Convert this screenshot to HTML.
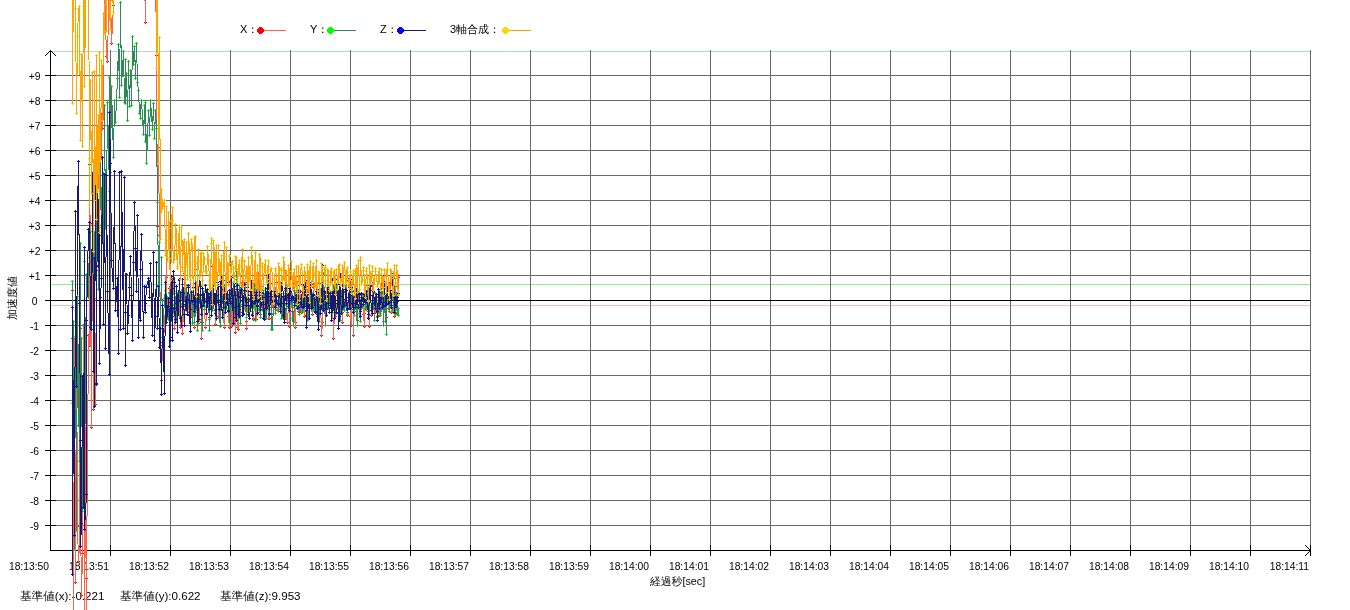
<!DOCTYPE html><html><head><meta charset="utf-8"><style>html,body{margin:0;padding:0;background:#fff;width:1350px;height:610px;overflow:hidden}svg{display:block}</style></head><body><svg width="1350" height="610" viewBox="0 0 1350 610" font-family="Liberation Sans, WenQuanYi Zen Hei, sans-serif"><g shape-rendering="crispEdges" stroke-width="1" fill="none"><path d="M50 51.5H1310" stroke="#add8e6"/><path d="M50 284.5H1310" stroke="#90ee90"/><path d="M50 305.5H1310" stroke="#ffb6c1"/><path d="M56 75.5H1310M56 100.5H1310M56 125.5H1310M56 150.5H1310M56 175.5H1310M56 200.5H1310M56 225.5H1310M56 250.5H1310M56 275.5H1310M56 325.5H1310M56 350.5H1310M56 375.5H1310M56 400.5H1310M56 425.5H1310M56 450.5H1310M56 475.5H1310M56 500.5H1310M56 525.5H1310M110.5 50V545M170.5 50V545M230.5 50V545M290.5 50V545M350.5 50V545M410.5 50V545M470.5 50V545M530.5 50V545M590.5 50V545M650.5 50V545M710.5 50V545M770.5 50V545M830.5 50V545M890.5 50V545M950.5 50V545M1010.5 50V545M1070.5 50V545M1130.5 50V545M1190.5 50V545M1250.5 50V545M1310.5 50V545" stroke="#696969"/><path d="M50.5 50V550M50 550.5H1310M45 300.5H1310M45 75.5H56M45 100.5H56M45 125.5H56M45 150.5H56M45 175.5H56M45 200.5H56M45 225.5H56M45 250.5H56M45 275.5H56M45 300.5H56M45 325.5H56M45 350.5H56M45 375.5H56M45 400.5H56M45 425.5H56M45 450.5H56M45 475.5H56M45 500.5H56M45 525.5H56M110.5 545V556M170.5 545V556M230.5 545V556M290.5 545V556M350.5 545V556M410.5 545V556M470.5 545V556M530.5 545V556M590.5 545V556M650.5 545V556M710.5 545V556M770.5 545V556M830.5 545V556M890.5 545V556M950.5 545V556M1010.5 545V556M1070.5 545V556M1130.5 545V556M1190.5 545V556M1250.5 545V556M1310.5 545V556" stroke="#000"/></g><path d="M44.5 56.5L50.5 50.5L56.5 56.5M1305 545L1310.5 550.5L1305 556" stroke="#000" fill="none" shape-rendering="crispEdges"/><g font-size="10.3"><text x="34.5" y="80.0" text-anchor="middle">+9</text><text x="34.5" y="105.0" text-anchor="middle">+8</text><text x="34.5" y="130.0" text-anchor="middle">+7</text><text x="34.5" y="155.0" text-anchor="middle">+6</text><text x="34.5" y="180.0" text-anchor="middle">+5</text><text x="34.5" y="205.0" text-anchor="middle">+4</text><text x="34.5" y="230.0" text-anchor="middle">+3</text><text x="34.5" y="255.0" text-anchor="middle">+2</text><text x="34.5" y="280.0" text-anchor="middle">+1</text><text x="34.5" y="305.0" text-anchor="middle">0</text><text x="34.5" y="330.0" text-anchor="middle">-1</text><text x="34.5" y="355.0" text-anchor="middle">-2</text><text x="34.5" y="380.0" text-anchor="middle">-3</text><text x="34.5" y="405.0" text-anchor="middle">-4</text><text x="34.5" y="430.0" text-anchor="middle">-5</text><text x="34.5" y="455.0" text-anchor="middle">-6</text><text x="34.5" y="480.0" text-anchor="middle">-7</text><text x="34.5" y="505.0" text-anchor="middle">-8</text><text x="34.5" y="530.0" text-anchor="middle">-9</text></g><g font-size="10.3"><text x="49" y="570" text-anchor="end">18:13:50</text><text x="109" y="570" text-anchor="end">18:13:51</text><text x="169" y="570" text-anchor="end">18:13:52</text><text x="229" y="570" text-anchor="end">18:13:53</text><text x="289" y="570" text-anchor="end">18:13:54</text><text x="349" y="570" text-anchor="end">18:13:55</text><text x="409" y="570" text-anchor="end">18:13:56</text><text x="469" y="570" text-anchor="end">18:13:57</text><text x="529" y="570" text-anchor="end">18:13:58</text><text x="589" y="570" text-anchor="end">18:13:59</text><text x="649" y="570" text-anchor="end">18:14:00</text><text x="709" y="570" text-anchor="end">18:14:01</text><text x="769" y="570" text-anchor="end">18:14:02</text><text x="829" y="570" text-anchor="end">18:14:03</text><text x="889" y="570" text-anchor="end">18:14:04</text><text x="949" y="570" text-anchor="end">18:14:05</text><text x="1009" y="570" text-anchor="end">18:14:06</text><text x="1069" y="570" text-anchor="end">18:14:07</text><text x="1129" y="570" text-anchor="end">18:14:08</text><text x="1189" y="570" text-anchor="end">18:14:09</text><text x="1249" y="570" text-anchor="end">18:14:10</text><text x="1309" y="570" text-anchor="end">18:14:11</text></g><text x="650" y="585" font-size="10.8">経過秒[sec]</text><text transform="translate(16 320) rotate(-90)" font-size="11">加速度値</text><g font-size="11.6"><text x="20" y="600">基準値(x):-0.221</text><text x="120" y="600">基準値(y):0.622</text><text x="220" y="600">基準値(z):9.953</text></g><text x="240" y="33" font-size="11" font-family="Liberation Sans, WenQuanYi Zen Hei, sans-serif">X：</text><path d="M260 30.5H286" stroke="#ff6347" shape-rendering="crispEdges"/><path d="M259 27h3v1h1v1h1v3h-1v1h-1v1h-3v-1h-1v-1h-1v-3h1v-1h1z" fill="#ff0000" shape-rendering="crispEdges"/><text x="310" y="33" font-size="11" font-family="Liberation Sans, WenQuanYi Zen Hei, sans-serif">Y：</text><path d="M330 30.5H356" stroke="#2e8b57" shape-rendering="crispEdges"/><path d="M329 27h3v1h1v1h1v3h-1v1h-1v1h-3v-1h-1v-1h-1v-3h1v-1h1z" fill="#00ff00" shape-rendering="crispEdges"/><text x="380" y="33" font-size="11" font-family="Liberation Sans, WenQuanYi Zen Hei, sans-serif">Z：</text><path d="M400 30.5H426" stroke="#191970" shape-rendering="crispEdges"/><path d="M399 27h3v1h1v1h1v3h-1v1h-1v1h-3v-1h-1v-1h-1v-3h1v-1h1z" fill="#0000ff" shape-rendering="crispEdges"/><text x="450" y="33" font-size="11" font-family="Liberation Sans, WenQuanYi Zen Hei, sans-serif">3軸合成：</text><path d="M505 30.5H531" stroke="#ffa500" shape-rendering="crispEdges"/><path d="M504 27h3v1h1v1h1v3h-1v1h-1v1h-3v-1h-1v-1h-1v-3h1v-1h1z" fill="#ffd700" shape-rendering="crispEdges"/><path d="M71 290.5h3M72.5 289v3M71 338.5h3M72.5 337v3M73 339.5h3M74.5 338v3M74 582.5h3M75.5 581v3M75 332.5h3M76.5 331v3M76 526.5h3M77.5 525v3M77 561.5h3M78.5 560v3M78 545.5h3M79.5 544v3M79 328.5h3M80.5 327v3M79 514.5h3M80.5 513v3M80 595.5h3M81.5 594v3M81 553.5h3M82.5 552v3M82 325.5h3M83.5 324v3M83 359.5h3M84.5 358v3M85 578.5h3M86.5 577v3M87 335.5h3M88.5 334v3M88 345.5h3M89.5 344v3M88 164.5h3M89.5 163v3M89 263.5h3M90.5 262v3M90 427.5h3M91.5 426v3M91 223.5h3M92.5 222v3M92 409.5h3M93.5 408v3M93 300.5h3M94.5 299v3M93 265.5h3M94.5 264v3M94 404.5h3M95.5 403v3M95 265.5h3M96.5 264v3M95 270.5h3M96.5 269v3M96 209.5h3M97.5 208v3M97 139.5h3M98.5 138v3M98 235.5h3M99.5 234v3M98 136.5h3M99.5 135v3M99 208.5h3M100.5 207v3M100 114.5h3M101.5 113v3M101 128.5h3M102.5 127v3M102 111.5h3M103.5 110v3M104 22.5h3M105.5 21v3M105 56.5h3M106.5 55v3M106 61.5h3M107.5 60v3M108 16.5h3M109.5 15v3M110 43.5h3M111.5 42v3M112 5.5h3M113.5 4v3M144 22.5h3M145.5 21v3M155 55.5h3M156.5 54v3M156 226.5h3M157.5 225v3M157 147.5h3M158.5 146v3M158 235.5h3M159.5 234v3M159 345.5h3M160.5 344v3M160 380.5h3M161.5 379v3M161 342.5h3M162.5 341v3M163 330.5h3M164.5 329v3M164 300.5h3M165.5 299v3M165 252.5h3M166.5 251v3M165 277.5h3M166.5 276v3M166 312.5h3M167.5 311v3M167 315.5h3M168.5 314v3M167 308.5h3M168.5 307v3M168 313.5h3M169.5 312v3M168 288.5h3M169.5 287v3M169 286.5h3M170.5 285v3M169 301.5h3M170.5 300v3M170 304.5h3M171.5 303v3M170 317.5h3M171.5 316v3M171 307.5h3M172.5 306v3M171 294.5h3M172.5 293v3M171 279.5h3M172.5 278v3M172 281.5h3M173.5 280v3M173 307.5h3M174.5 306v3M173 328.5h3M174.5 327v3M174 313.5h3M175.5 312v3M174 300.5h3M175.5 299v3M175 293.5h3M176.5 292v3M175 303.5h3M176.5 302v3M176 314.5h3M177.5 313v3M176 302.5h3M177.5 301v3M177 295.5h3M178.5 294v3M178 296.5h3M179.5 295v3M178 307.5h3M179.5 306v3M179 327.5h3M180.5 326v3M179 307.5h3M180.5 306v3M180 294.5h3M181.5 293v3M181 284.5h3M182.5 283v3M181 306.5h3M182.5 305v3M181 333.5h3M182.5 332v3M182 310.5h3M183.5 309v3M183 277.5h3M184.5 276v3M183 273.5h3M184.5 272v3M184 298.5h3M185.5 297v3M184 306.5h3M185.5 305v3M185 310.5h3M186.5 309v3M185 309.5h3M186.5 308v3M186 297.5h3M187.5 296v3M186 298.5h3M187.5 297v3M187 301.5h3M188.5 300v3M187 306.5h3M188.5 305v3M188 312.5h3M189.5 311v3M188 309.5h3M189.5 308v3M189 296.5h3M190.5 295v3M189 270.5h3M190.5 269v3M190 310.5h3M191.5 309v3M190 316.5h3M191.5 315v3M191 301.5h3M192.5 300v3M191 295.5h3M192.5 294v3M192 302.5h3M193.5 301v3M192 306.5h3M193.5 305v3M193 327.5h3M194.5 326v3M193 313.5h3M194.5 312v3M194 295.5h3M195.5 294v3M194 269.5h3M195.5 268v3M195 306.5h3M196.5 305v3M196 302.5h3M197.5 301v3M196 299.5h3M197.5 298v3M197 294.5h3M198.5 293v3M197 323.5h3M198.5 322v3M198 319.5h3M199.5 318v3M199 295.5h3M200.5 294v3M199 294.5h3M200.5 293v3M200 322.5h3M201.5 321v3M200 338.5h3M201.5 337v3M201 322.5h3M202.5 321v3M201 299.5h3M202.5 298v3M202 297.5h3M203.5 296v3M202 296.5h3M203.5 295v3M203 309.5h3M204.5 308v3M204 327.5h3M205.5 326v3M205 314.5h3M206.5 313v3M205 298.5h3M206.5 297v3M206 289.5h3M207.5 288v3M206 299.5h3M207.5 298v3M207 304.5h3M208.5 303v3M208 317.5h3M209.5 316v3M208 307.5h3M209.5 306v3M209 299.5h3M210.5 298v3M209 291.5h3M210.5 290v3M210 293.5h3M211.5 292v3M210 302.5h3M211.5 301v3M211 308.5h3M212.5 307v3M211 307.5h3M212.5 306v3M212 302.5h3M213.5 301v3M212 295.5h3M213.5 294v3M213 294.5h3M214.5 293v3M213 298.5h3M214.5 297v3M214 310.5h3M215.5 309v3M214 324.5h3M215.5 323v3M215 318.5h3M216.5 317v3M215 301.5h3M216.5 300v3M216 290.5h3M217.5 289v3M217 301.5h3M218.5 300v3M217 316.5h3M218.5 315v3M218 315.5h3M219.5 314v3M219 294.5h3M220.5 293v3M219 301.5h3M220.5 300v3M220 309.5h3M221.5 308v3M220 307.5h3M221.5 306v3M221 285.5h3M222.5 284v3M222 295.5h3M223.5 294v3M222 317.5h3M223.5 316v3M223 327.5h3M224.5 326v3M223 310.5h3M224.5 309v3M224 280.5h3M225.5 279v3M224 302.5h3M225.5 301v3M225 305.5h3M226.5 304v3M225 300.5h3M226.5 299v3M226 295.5h3M227.5 294v3M227 295.5h3M228.5 294v3M227 316.5h3M228.5 315v3M228 327.5h3M229.5 326v3M228 315.5h3M229.5 314v3M229 282.5h3M230.5 281v3M229 281.5h3M230.5 280v3M230 311.5h3M231.5 310v3M230 326.5h3M231.5 325v3M231 322.5h3M232.5 321v3M232 295.5h3M233.5 294v3M232 291.5h3M233.5 290v3M233 298.5h3M234.5 297v3M233 319.5h3M234.5 318v3M234 332.5h3M235.5 331v3M234 305.5h3M235.5 304v3M235 293.5h3M236.5 292v3M235 289.5h3M236.5 288v3M236 299.5h3M237.5 298v3M236 327.5h3M237.5 326v3M237 329.5h3M238.5 328v3M237 303.5h3M238.5 302v3M238 295.5h3M239.5 294v3M238 304.5h3M239.5 303v3M239 312.5h3M240.5 311v3M239 306.5h3M240.5 305v3M240 287.5h3M241.5 286v3M241 276.5h3M242.5 275v3M241 291.5h3M242.5 290v3M242 309.5h3M243.5 308v3M242 313.5h3M243.5 312v3M243 307.5h3M244.5 306v3M243 293.5h3M244.5 292v3M244 282.5h3M245.5 281v3M245 321.5h3M246.5 320v3M245 328.5h3M246.5 327v3M246 299.5h3M247.5 298v3M246 290.5h3M247.5 289v3M247 295.5h3M248.5 294v3M247 307.5h3M248.5 306v3M248 307.5h3M249.5 306v3M249 308.5h3M250.5 307v3M249 301.5h3M250.5 300v3M250 290.5h3M251.5 289v3M250 286.5h3M251.5 285v3M251 291.5h3M252.5 290v3M251 314.5h3M252.5 313v3M252 318.5h3M253.5 317v3M252 319.5h3M253.5 318v3M253 303.5h3M254.5 302v3M254 280.5h3M255.5 279v3M254 288.5h3M255.5 287v3M255 315.5h3M256.5 314v3M255 319.5h3M256.5 318v3M256 312.5h3M257.5 311v3M256 292.5h3M257.5 291v3M256 275.5h3M257.5 274v3M257 272.5h3M258.5 271v3M258 295.5h3M259.5 294v3M258 308.5h3M259.5 307v3M259 314.5h3M260.5 313v3M259 306.5h3M260.5 305v3M260 303.5h3M261.5 302v3M260 286.5h3M261.5 285v3M261 302.5h3M262.5 301v3M261 307.5h3M262.5 306v3M262 298.5h3M263.5 297v3M262 295.5h3M263.5 294v3M263 298.5h3M264.5 297v3M264 318.5h3M265.5 317v3M264 317.5h3M265.5 316v3M265 306.5h3M266.5 305v3M265 293.5h3M266.5 292v3M266 294.5h3M267.5 293v3M266 294.5h3M267.5 293v3M267 307.5h3M268.5 306v3M267 318.5h3M268.5 317v3M268 318.5h3M269.5 317v3M268 299.5h3M269.5 298v3M269 283.5h3M270.5 282v3M269 292.5h3M270.5 291v3M270 307.5h3M271.5 306v3M270 314.5h3M271.5 313v3M271 300.5h3M272.5 299v3M272 291.5h3M273.5 290v3M272 294.5h3M273.5 293v3M273 305.5h3M274.5 304v3M274 304.5h3M275.5 303v3M274 299.5h3M275.5 298v3M274 291.5h3M275.5 290v3M275 282.5h3M276.5 281v3M275 303.5h3M276.5 302v3M276 310.5h3M277.5 309v3M277 309.5h3M278.5 308v3M277 305.5h3M278.5 304v3M278 293.5h3M279.5 292v3M278 290.5h3M279.5 289v3M279 301.5h3M280.5 300v3M280 313.5h3M281.5 312v3M280 309.5h3M281.5 308v3M281 305.5h3M282.5 304v3M281 298.5h3M282.5 297v3M282 297.5h3M283.5 296v3M282 310.5h3M283.5 309v3M283 319.5h3M284.5 318v3M283 309.5h3M284.5 308v3M284 290.5h3M285.5 289v3M284 271.5h3M285.5 270v3M285 296.5h3M286.5 295v3M285 317.5h3M286.5 316v3M286 322.5h3M287.5 321v3M287 303.5h3M288.5 302v3M287 296.5h3M288.5 295v3M288 303.5h3M289.5 302v3M288 326.5h3M289.5 325v3M289 301.5h3M290.5 300v3M290 293.5h3M291.5 292v3M290 303.5h3M291.5 302v3M291 311.5h3M292.5 310v3M291 307.5h3M292.5 306v3M292 278.5h3M293.5 277v3M293 280.5h3M294.5 279v3M293 317.5h3M294.5 316v3M294 327.5h3M295.5 326v3M294 322.5h3M295.5 321v3M295 293.5h3M296.5 292v3M295 276.5h3M296.5 275v3M296 285.5h3M297.5 284v3M296 305.5h3M297.5 304v3M297 305.5h3M298.5 304v3M297 311.5h3M298.5 310v3M298 302.5h3M299.5 301v3M298 291.5h3M299.5 290v3M299 296.5h3M300.5 295v3M300 312.5h3M301.5 311v3M300 307.5h3M301.5 306v3M301 297.5h3M302.5 296v3M301 291.5h3M302.5 290v3M302 294.5h3M303.5 293v3M302 309.5h3M303.5 308v3M303 316.5h3M304.5 315v3M303 311.5h3M304.5 310v3M304 296.5h3M305.5 295v3M305 291.5h3M306.5 290v3M305 315.5h3M306.5 314v3M306 314.5h3M307.5 313v3M306 292.5h3M307.5 291v3M307 286.5h3M308.5 285v3M308 297.5h3M309.5 296v3M308 306.5h3M309.5 305v3M309 305.5h3M310.5 304v3M309 301.5h3M310.5 300v3M310 293.5h3M311.5 292v3M310 308.5h3M311.5 307v3M311 314.5h3M312.5 313v3M311 299.5h3M312.5 298v3M312 284.5h3M313.5 283v3M312 287.5h3M313.5 286v3M313 307.5h3M314.5 306v3M314 306.5h3M315.5 305v3M314 301.5h3M315.5 300v3M315 289.5h3M316.5 288v3M315 298.5h3M316.5 297v3M316 302.5h3M317.5 301v3M316 316.5h3M317.5 315v3M317 315.5h3M318.5 314v3M317 308.5h3M318.5 307v3M318 295.5h3M319.5 294v3M318 283.5h3M319.5 282v3M319 291.5h3M320.5 290v3M319 309.5h3M320.5 308v3M320 326.5h3M321.5 325v3M320 335.5h3M321.5 334v3M321 322.5h3M322.5 321v3M321 298.5h3M322.5 297v3M322 292.5h3M323.5 291v3M322 295.5h3M323.5 294v3M323 309.5h3M324.5 308v3M324 313.5h3M325.5 312v3M324 310.5h3M325.5 309v3M325 296.5h3M326.5 295v3M325 292.5h3M326.5 291v3M326 307.5h3M327.5 306v3M326 307.5h3M327.5 306v3M327 294.5h3M328.5 293v3M327 286.5h3M328.5 285v3M328 293.5h3M329.5 292v3M329 307.5h3M330.5 306v3M329 307.5h3M330.5 306v3M330 308.5h3M331.5 307v3M330 302.5h3M331.5 301v3M331 298.5h3M332.5 297v3M331 298.5h3M332.5 297v3M332 338.5h3M333.5 337v3M333 310.5h3M334.5 309v3M333 275.5h3M334.5 274v3M334 295.5h3M335.5 294v3M334 316.5h3M335.5 315v3M335 313.5h3M336.5 312v3M336 295.5h3M337.5 294v3M336 290.5h3M337.5 289v3M337 298.5h3M338.5 297v3M337 309.5h3M338.5 308v3M338 311.5h3M339.5 310v3M338 311.5h3M339.5 310v3M339 297.5h3M340.5 296v3M339 294.5h3M340.5 293v3M340 305.5h3M341.5 304v3M341 322.5h3M342.5 321v3M341 312.5h3M342.5 311v3M342 292.5h3M343.5 291v3M342 291.5h3M343.5 290v3M343 305.5h3M344.5 304v3M344 305.5h3M345.5 304v3M344 287.5h3M345.5 286v3M345 280.5h3M346.5 279v3M345 300.5h3M346.5 299v3M346 312.5h3M347.5 311v3M346 315.5h3M347.5 314v3M347 305.5h3M348.5 304v3M348 287.5h3M349.5 286v3M348 280.5h3M349.5 279v3M348 278.5h3M349.5 277v3M349 304.5h3M350.5 303v3M349 316.5h3M350.5 315v3M350 325.5h3M351.5 324v3M350 309.5h3M351.5 308v3M351 284.5h3M352.5 283v3M352 305.5h3M353.5 304v3M352 335.5h3M353.5 334v3M353 299.5h3M354.5 298v3M354 297.5h3M355.5 296v3M354 297.5h3M355.5 296v3M355 301.5h3M356.5 300v3M355 311.5h3M356.5 310v3M356 320.5h3M357.5 319v3M356 304.5h3M357.5 303v3M357 293.5h3M358.5 292v3M358 290.5h3M359.5 289v3M358 297.5h3M359.5 296v3M359 307.5h3M360.5 306v3M359 307.5h3M360.5 306v3M360 308.5h3M361.5 307v3M360 299.5h3M361.5 298v3M361 295.5h3M362.5 294v3M362 304.5h3M363.5 303v3M362 314.5h3M363.5 313v3M363 326.5h3M364.5 325v3M363 313.5h3M364.5 312v3M364 298.5h3M365.5 297v3M364 297.5h3M365.5 296v3M365 309.5h3M366.5 308v3M365 305.5h3M366.5 304v3M366 285.5h3M367.5 284v3M367 288.5h3M368.5 287v3M367 311.5h3M368.5 310v3M368 326.5h3M369.5 325v3M368 305.5h3M369.5 304v3M369 277.5h3M370.5 276v3M369 290.5h3M370.5 289v3M370 315.5h3M371.5 314v3M371 309.5h3M372.5 308v3M371 286.5h3M372.5 285v3M372 282.5h3M373.5 281v3M372 292.5h3M373.5 291v3M373 308.5h3M374.5 307v3M374 312.5h3M375.5 311v3M374 304.5h3M375.5 303v3M375 296.5h3M376.5 295v3M376 310.5h3M377.5 309v3M376 316.5h3M377.5 315v3M377 300.5h3M378.5 299v3M377 297.5h3M378.5 296v3M378 301.5h3M379.5 300v3M378 315.5h3M379.5 314v3M379 309.5h3M380.5 308v3M379 298.5h3M380.5 297v3M380 284.5h3M381.5 283v3M380 291.5h3M381.5 290v3M381 308.5h3M382.5 307v3M382 308.5h3M383.5 307v3M382 302.5h3M383.5 301v3M383 300.5h3M384.5 299v3M383 301.5h3M384.5 300v3M383 300.5h3M384.5 299v3M384 310.5h3M385.5 309v3M385 317.5h3M386.5 316v3M385 304.5h3M386.5 303v3M386 291.5h3M387.5 290v3M386 303.5h3M387.5 302v3M387 308.5h3M388.5 307v3M388 302.5h3M389.5 301v3M388 283.5h3M389.5 282v3M389 285.5h3M390.5 284v3M389 304.5h3M390.5 303v3M390 312.5h3M391.5 311v3M390 307.5h3M391.5 306v3M391 290.5h3M392.5 289v3M392 278.5h3M393.5 277v3M392 311.5h3M393.5 310v3M393 316.5h3M394.5 315v3M393 303.5h3M394.5 302v3M394 292.5h3M395.5 291v3M394 286.5h3M395.5 285v3M395 298.5h3M396.5 297v3M395 308.5h3M396.5 307v3M396 313.5h3M397.5 312v3M396 307.5h3M397.5 306v3M397 277.5h3M398.5 276v3M397 275.5h3M398.5 274v3" stroke="#ff0000" fill="none" shape-rendering="crispEdges"/>
<polyline points="72.5,290.5 72.5,338.5 73.5,640.5 74.5,339.5 75.5,582.5 76.5,332.5 77.5,526.5 78.5,561.5 79.5,545.5 80.5,328.5 80.5,514.5 81.5,595.5 82.5,553.5 83.5,325.5 84.5,640.5 84.5,359.5 86.5,620.5 86.5,578.5 88.5,335.5 89.5,345.5 89.5,164.5 90.5,263.5 91.5,427.5 92.5,223.5 93.5,409.5 94.5,300.5 94.5,265.5 95.5,404.5 96.5,265.5 96.5,270.5 97.5,209.5 98.5,139.5 99.5,235.5 99.5,136.5 100.5,208.5 101.5,114.5 102.5,128.5 103.5,111.5 104.5,-35.5 105.5,22.5 106.5,56.5 107.5,61.5 109.5,-39.5 109.5,16.5 110.5,-10.5 111.5,43.5 113.5,5.5 114.5,-148.5 115.5,-22.5 117.5,-71.5 118.5,-134.5 119.5,-28.5 120.5,-141.5 121.5,-31.5 123.5,-97.5 124.5,-60.5 125.5,-148.5 125.5,-131.5 126.5,-25.5 127.5,-105.5 128.5,-83.5 129.5,-82.5 130.5,-23.5 131.5,-150.5 132.5,-90.5 133.5,-149.5 134.5,-82.5 135.5,-148.5 136.5,-61.5 137.5,-141.5 138.5,-31.5 139.5,-42.5 140.5,-114.5 140.5,-133.5 141.5,-81.5 143.5,-137.5 144.5,-21.5 145.5,22.5 145.5,-22.5 146.5,-126.5 148.5,-146.5 149.5,-145.5 150.5,-90.5 152.5,-87.5 153.5,-81.5 154.5,-88.5 155.5,-33.5 156.5,55.5 157.5,226.5 158.5,147.5 159.5,235.5 160.5,345.5 161.5,380.5 162.5,342.5 164.5,330.5 165.5,300.5 166.5,252.5 166.5,277.5 167.5,312.5 168.5,315.5 168.5,308.5 169.5,313.5 169.5,288.5 170.5,286.5 170.5,301.5 171.5,304.5 171.5,317.5 172.5,307.5 172.5,294.5 172.5,279.5 173.5,281.5 174.5,307.5 174.5,328.5 175.5,313.5 175.5,300.5 176.5,293.5 176.5,303.5 177.5,314.5 177.5,302.5 178.5,295.5 179.5,296.5 179.5,307.5 180.5,327.5 180.5,307.5 181.5,294.5 182.5,284.5 182.5,306.5 182.5,333.5 183.5,310.5 184.5,277.5 184.5,273.5 185.5,298.5 185.5,306.5 186.5,310.5 186.5,309.5 187.5,297.5 187.5,298.5 188.5,301.5 188.5,306.5 189.5,312.5 189.5,309.5 190.5,296.5 190.5,270.5 191.5,310.5 191.5,316.5 192.5,301.5 192.5,295.5 193.5,302.5 193.5,306.5 194.5,327.5 194.5,313.5 195.5,295.5 195.5,269.5 196.5,306.5 197.5,302.5 197.5,299.5 198.5,294.5 198.5,323.5 199.5,319.5 200.5,295.5 200.5,294.5 201.5,322.5 201.5,338.5 202.5,322.5 202.5,299.5 203.5,297.5 203.5,296.5 204.5,309.5 205.5,327.5 206.5,314.5 206.5,298.5 207.5,289.5 207.5,299.5 208.5,304.5 209.5,317.5 209.5,307.5 210.5,299.5 210.5,291.5 211.5,293.5 211.5,302.5 212.5,308.5 212.5,307.5 213.5,302.5 213.5,295.5 214.5,294.5 214.5,298.5 215.5,310.5 215.5,324.5 216.5,318.5 216.5,301.5 217.5,290.5 218.5,301.5 218.5,316.5 219.5,315.5 220.5,294.5 220.5,301.5 221.5,309.5 221.5,307.5 222.5,285.5 223.5,295.5 223.5,317.5 224.5,327.5 224.5,310.5 225.5,280.5 225.5,302.5 226.5,305.5 226.5,300.5 227.5,295.5 228.5,295.5 228.5,316.5 229.5,327.5 229.5,315.5 230.5,282.5 230.5,281.5 231.5,311.5 231.5,326.5 232.5,322.5 233.5,295.5 233.5,291.5 234.5,298.5 234.5,319.5 235.5,332.5 235.5,305.5 236.5,293.5 236.5,289.5 237.5,299.5 237.5,327.5 238.5,329.5 238.5,303.5 239.5,295.5 239.5,304.5 240.5,312.5 240.5,306.5 241.5,287.5 242.5,276.5 242.5,291.5 243.5,309.5 243.5,313.5 244.5,307.5 244.5,293.5 245.5,282.5 246.5,321.5 246.5,328.5 247.5,299.5 247.5,290.5 248.5,295.5 248.5,307.5 249.5,307.5 250.5,308.5 250.5,301.5 251.5,290.5 251.5,286.5 252.5,291.5 252.5,314.5 253.5,318.5 253.5,319.5 254.5,303.5 255.5,280.5 255.5,288.5 256.5,315.5 256.5,319.5 257.5,312.5 257.5,292.5 257.5,275.5 258.5,272.5 259.5,295.5 259.5,308.5 260.5,314.5 260.5,306.5 261.5,303.5 261.5,286.5 262.5,302.5 262.5,307.5 263.5,298.5 263.5,295.5 264.5,298.5 265.5,318.5 265.5,317.5 266.5,306.5 266.5,293.5 267.5,294.5 267.5,294.5 268.5,307.5 268.5,318.5 269.5,318.5 269.5,299.5 270.5,283.5 270.5,292.5 271.5,307.5 271.5,314.5 272.5,300.5 273.5,291.5 273.5,294.5 274.5,305.5 275.5,304.5 275.5,299.5 275.5,291.5 276.5,282.5 276.5,303.5 277.5,310.5 278.5,309.5 278.5,305.5 279.5,293.5 279.5,290.5 280.5,301.5 281.5,313.5 281.5,309.5 282.5,305.5 282.5,298.5 283.5,297.5 283.5,310.5 284.5,319.5 284.5,309.5 285.5,290.5 285.5,271.5 286.5,296.5 286.5,317.5 287.5,322.5 288.5,303.5 288.5,296.5 289.5,303.5 289.5,326.5 290.5,301.5 291.5,293.5 291.5,303.5 292.5,311.5 292.5,307.5 293.5,278.5 294.5,280.5 294.5,317.5 295.5,327.5 295.5,322.5 296.5,293.5 296.5,276.5 297.5,285.5 297.5,305.5 298.5,305.5 298.5,311.5 299.5,302.5 299.5,291.5 300.5,296.5 301.5,312.5 301.5,307.5 302.5,297.5 302.5,291.5 303.5,294.5 303.5,309.5 304.5,316.5 304.5,311.5 305.5,296.5 306.5,291.5 306.5,315.5 307.5,314.5 307.5,292.5 308.5,286.5 309.5,297.5 309.5,306.5 310.5,305.5 310.5,301.5 311.5,293.5 311.5,308.5 312.5,314.5 312.5,299.5 313.5,284.5 313.5,287.5 314.5,307.5 315.5,306.5 315.5,301.5 316.5,289.5 316.5,298.5 317.5,302.5 317.5,316.5 318.5,315.5 318.5,308.5 319.5,295.5 319.5,283.5 320.5,291.5 320.5,309.5 321.5,326.5 321.5,335.5 322.5,322.5 322.5,298.5 323.5,292.5 323.5,295.5 324.5,309.5 325.5,313.5 325.5,310.5 326.5,296.5 326.5,292.5 327.5,307.5 327.5,307.5 328.5,294.5 328.5,286.5 329.5,293.5 330.5,307.5 330.5,307.5 331.5,308.5 331.5,302.5 332.5,298.5 332.5,298.5 333.5,338.5 334.5,310.5 334.5,275.5 335.5,295.5 335.5,316.5 336.5,313.5 337.5,295.5 337.5,290.5 338.5,298.5 338.5,309.5 339.5,311.5 339.5,311.5 340.5,297.5 340.5,294.5 341.5,305.5 342.5,322.5 342.5,312.5 343.5,292.5 343.5,291.5 344.5,305.5 345.5,305.5 345.5,287.5 346.5,280.5 346.5,300.5 347.5,312.5 347.5,315.5 348.5,305.5 349.5,287.5 349.5,280.5 349.5,278.5 350.5,304.5 350.5,316.5 351.5,325.5 351.5,309.5 352.5,284.5 353.5,305.5 353.5,335.5 354.5,299.5 355.5,297.5 355.5,297.5 356.5,301.5 356.5,311.5 357.5,320.5 357.5,304.5 358.5,293.5 359.5,290.5 359.5,297.5 360.5,307.5 360.5,307.5 361.5,308.5 361.5,299.5 362.5,295.5 363.5,304.5 363.5,314.5 364.5,326.5 364.5,313.5 365.5,298.5 365.5,297.5 366.5,309.5 366.5,305.5 367.5,285.5 368.5,288.5 368.5,311.5 369.5,326.5 369.5,305.5 370.5,277.5 370.5,290.5 371.5,315.5 372.5,309.5 372.5,286.5 373.5,282.5 373.5,292.5 374.5,308.5 375.5,312.5 375.5,304.5 376.5,296.5 377.5,310.5 377.5,316.5 378.5,300.5 378.5,297.5 379.5,301.5 379.5,315.5 380.5,309.5 380.5,298.5 381.5,284.5 381.5,291.5 382.5,308.5 383.5,308.5 383.5,302.5 384.5,300.5 384.5,301.5 384.5,300.5 385.5,310.5 386.5,317.5 386.5,304.5 387.5,291.5 387.5,303.5 388.5,308.5 389.5,302.5 389.5,283.5 390.5,285.5 390.5,304.5 391.5,312.5 391.5,307.5 392.5,290.5 393.5,278.5 393.5,311.5 394.5,316.5 394.5,303.5 395.5,292.5 395.5,286.5 396.5,298.5 396.5,308.5 397.5,313.5 397.5,307.5 398.5,277.5 398.5,275.5" fill="none" stroke="#ff6347" stroke-width="1" shape-rendering="crispEdges"/>
<path d="M71 281.5h3M72.5 280v3M71 403.5h3M72.5 402v3M72 321.5h3M73.5 320v3M73 549.5h3M74.5 548v3M74 336.5h3M75.5 335v3M75 530.5h3M76.5 529v3M76 296.5h3M77.5 295v3M77 389.5h3M78.5 388v3M78 461.5h3M79.5 460v3M79 243.5h3M80.5 242v3M79 409.5h3M80.5 408v3M80 338.5h3M81.5 337v3M81 511.5h3M82.5 510v3M82 405.5h3M83.5 404v3M83 476.5h3M84.5 475v3M83 261.5h3M84.5 260v3M85 476.5h3M86.5 475v3M85 274.5h3M86.5 273v3M87 297.5h3M88.5 296v3M88 230.5h3M89.5 229v3M88 257.5h3M89.5 256v3M89 231.5h3M90.5 230v3M90 270.5h3M91.5 269v3M91 252.5h3M92.5 251v3M92 272.5h3M93.5 271v3M93 232.5h3M94.5 231v3M93 298.5h3M94.5 297v3M94 263.5h3M95.5 262v3M95 247.5h3M96.5 246v3M95 275.5h3M96.5 274v3M96 160.5h3M97.5 159v3M97 289.5h3M98.5 288v3M98 154.5h3M99.5 153v3M98 278.5h3M99.5 277v3M99 143.5h3M100.5 142v3M100 227.5h3M101.5 226v3M101 212.5h3M102.5 211v3M102 242.5h3M103.5 241v3M103 105.5h3M104.5 104v3M104 228.5h3M105.5 227v3M105 200.5h3M106.5 199v3M106 102.5h3M107.5 101v3M108 191.5h3M109.5 190v3M108 77.5h3M109.5 76v3M109 172.5h3M110.5 171v3M110 86.5h3M111.5 85v3M112 157.5h3M113.5 156v3M113 100.5h3M114.5 99v3M114 122.5h3M115.5 121v3M116 78.5h3M117.5 77v3M117 44.5h3M118.5 43v3M118 97.5h3M119.5 96v3M119 2.5h3M120.5 1v3M120 85.5h3M121.5 84v3M122 51.5h3M123.5 50v3M123 102.5h3M124.5 101v3M124 59.5h3M125.5 58v3M124 103.5h3M125.5 102v3M125 73.5h3M126.5 72v3M126 120.5h3M127.5 119v3M127 61.5h3M128.5 60v3M128 106.5h3M129.5 105v3M129 70.5h3M130.5 69v3M130 105.5h3M131.5 104v3M131 36.5h3M132.5 35v3M132 64.5h3M133.5 63v3M133 46.5h3M134.5 45v3M134 78.5h3M135.5 77v3M135 43.5h3M136.5 42v3M136 82.5h3M137.5 81v3M137 90.5h3M138.5 89v3M138 113.5h3M139.5 112v3M139 105.5h3M140.5 104v3M139 118.5h3M140.5 117v3M140 100.5h3M141.5 99v3M142 134.5h3M143.5 133v3M143 105.5h3M144.5 104v3M144 141.5h3M145.5 140v3M144 102.5h3M145.5 101v3M145 163.5h3M146.5 162v3M147 110.5h3M148.5 109v3M148 135.5h3M149.5 134v3M149 100.5h3M150.5 99v3M151 129.5h3M152.5 128v3M152 103.5h3M153.5 102v3M153 138.5h3M154.5 137v3M154 110.5h3M155.5 109v3M155 128.5h3M156.5 127v3M156 202.5h3M157.5 201v3M157 285.5h3M158.5 284v3M158 242.5h3M159.5 241v3M159 348.5h3M160.5 347v3M160 257.5h3M161.5 256v3M161 337.5h3M162.5 336v3M163 298.5h3M164.5 297v3M164 290.5h3M165.5 289v3M165 296.5h3M166.5 295v3M165 304.5h3M166.5 303v3M166 317.5h3M167.5 316v3M167 319.5h3M168.5 318v3M167 307.5h3M168.5 306v3M168 292.5h3M169.5 291v3M168 293.5h3M169.5 292v3M169 296.5h3M170.5 295v3M169 324.5h3M170.5 323v3M170 319.5h3M171.5 318v3M170 297.5h3M171.5 296v3M171 287.5h3M172.5 286v3M171 297.5h3M172.5 296v3M171 305.5h3M172.5 304v3M172 312.5h3M173.5 311v3M173 304.5h3M174.5 303v3M173 291.5h3M174.5 290v3M174 300.5h3M175.5 299v3M174 318.5h3M175.5 317v3M175 320.5h3M176.5 319v3M175 293.5h3M176.5 292v3M176 293.5h3M177.5 292v3M176 311.5h3M177.5 310v3M177 312.5h3M178.5 311v3M178 280.5h3M179.5 279v3M178 296.5h3M179.5 295v3M179 304.5h3M180.5 303v3M179 303.5h3M180.5 302v3M180 292.5h3M181.5 291v3M181 303.5h3M182.5 302v3M181 307.5h3M182.5 306v3M181 315.5h3M182.5 314v3M182 299.5h3M183.5 298v3M183 291.5h3M184.5 290v3M183 297.5h3M184.5 296v3M184 304.5h3M185.5 303v3M184 305.5h3M185.5 304v3M185 286.5h3M186.5 285v3M185 285.5h3M186.5 284v3M186 311.5h3M187.5 310v3M186 307.5h3M187.5 306v3M187 301.5h3M188.5 300v3M187 294.5h3M188.5 293v3M188 298.5h3M189.5 297v3M188 304.5h3M189.5 303v3M189 310.5h3M190.5 309v3M189 310.5h3M190.5 309v3M190 297.5h3M191.5 296v3M190 291.5h3M191.5 290v3M191 314.5h3M192.5 313v3M191 323.5h3M192.5 322v3M192 300.5h3M193.5 299v3M192 299.5h3M193.5 298v3M193 316.5h3M194.5 315v3M193 322.5h3M194.5 321v3M194 312.5h3M195.5 311v3M194 297.5h3M195.5 296v3M195 297.5h3M196.5 296v3M196 324.5h3M197.5 323v3M196 330.5h3M197.5 329v3M197 302.5h3M198.5 301v3M197 286.5h3M198.5 285v3M198 302.5h3M199.5 301v3M199 305.5h3M200.5 304v3M199 297.5h3M200.5 296v3M200 300.5h3M201.5 299v3M200 321.5h3M201.5 320v3M201 330.5h3M202.5 329v3M201 305.5h3M202.5 304v3M202 291.5h3M203.5 290v3M202 300.5h3M203.5 299v3M203 306.5h3M204.5 305v3M204 300.5h3M205.5 299v3M205 300.5h3M206.5 299v3M205 307.5h3M206.5 306v3M206 305.5h3M207.5 304v3M206 292.5h3M207.5 291v3M207 295.5h3M208.5 294v3M208 330.5h3M209.5 329v3M208 319.5h3M209.5 318v3M209 300.5h3M210.5 299v3M209 288.5h3M210.5 287v3M210 292.5h3M211.5 291v3M210 298.5h3M211.5 297v3M211 302.5h3M212.5 301v3M211 310.5h3M212.5 309v3M212 304.5h3M213.5 303v3M212 300.5h3M213.5 299v3M213 295.5h3M214.5 294v3M213 296.5h3M214.5 295v3M214 304.5h3M215.5 303v3M214 309.5h3M215.5 308v3M215 309.5h3M216.5 308v3M215 303.5h3M216.5 302v3M216 296.5h3M217.5 295v3M217 294.5h3M218.5 293v3M217 299.5h3M218.5 298v3M218 318.5h3M219.5 317v3M219 326.5h3M220.5 325v3M219 301.5h3M220.5 300v3M220 301.5h3M221.5 300v3M220 295.5h3M221.5 294v3M221 297.5h3M222.5 296v3M222 309.5h3M223.5 308v3M222 315.5h3M223.5 314v3M223 303.5h3M224.5 302v3M223 291.5h3M224.5 290v3M224 284.5h3M225.5 283v3M224 296.5h3M225.5 295v3M225 305.5h3M226.5 304v3M225 308.5h3M226.5 307v3M226 297.5h3M227.5 296v3M227 298.5h3M228.5 297v3M227 297.5h3M228.5 296v3M228 311.5h3M229.5 310v3M228 322.5h3M229.5 321v3M229 307.5h3M230.5 306v3M229 293.5h3M230.5 292v3M230 307.5h3M231.5 306v3M230 306.5h3M231.5 305v3M231 307.5h3M232.5 306v3M232 290.5h3M233.5 289v3M232 282.5h3M233.5 281v3M233 299.5h3M234.5 298v3M233 311.5h3M234.5 310v3M234 315.5h3M235.5 314v3M234 303.5h3M235.5 302v3M235 279.5h3M236.5 278v3M235 269.5h3M236.5 268v3M236 295.5h3M237.5 294v3M236 310.5h3M237.5 309v3M237 318.5h3M238.5 317v3M237 308.5h3M238.5 307v3M238 284.5h3M239.5 283v3M238 296.5h3M239.5 295v3M239 323.5h3M240.5 322v3M239 301.5h3M240.5 300v3M240 288.5h3M241.5 287v3M241 291.5h3M242.5 290v3M241 304.5h3M242.5 303v3M242 307.5h3M243.5 306v3M242 302.5h3M243.5 301v3M243 298.5h3M244.5 297v3M243 295.5h3M244.5 294v3M244 305.5h3M245.5 304v3M245 317.5h3M246.5 316v3M245 309.5h3M246.5 308v3M246 287.5h3M247.5 286v3M246 284.5h3M247.5 283v3M247 298.5h3M248.5 297v3M247 309.5h3M248.5 308v3M248 310.5h3M249.5 309v3M249 300.5h3M250.5 299v3M249 291.5h3M250.5 290v3M250 289.5h3M251.5 288v3M250 295.5h3M251.5 294v3M251 308.5h3M252.5 307v3M251 311.5h3M252.5 310v3M252 305.5h3M253.5 304v3M252 301.5h3M253.5 300v3M253 280.5h3M254.5 279v3M254 307.5h3M255.5 306v3M254 320.5h3M255.5 319v3M255 289.5h3M256.5 288v3M255 286.5h3M256.5 285v3M256 310.5h3M257.5 309v3M256 309.5h3M257.5 308v3M256 300.5h3M257.5 299v3M257 293.5h3M258.5 292v3M258 300.5h3M259.5 299v3M258 308.5h3M259.5 307v3M259 317.5h3M260.5 316v3M259 310.5h3M260.5 309v3M260 299.5h3M261.5 298v3M260 289.5h3M261.5 288v3M261 302.5h3M262.5 301v3M261 310.5h3M262.5 309v3M262 304.5h3M263.5 303v3M262 290.5h3M263.5 289v3M263 295.5h3M264.5 294v3M264 299.5h3M265.5 298v3M264 314.5h3M265.5 313v3M265 318.5h3M266.5 317v3M265 310.5h3M266.5 309v3M266 301.5h3M267.5 300v3M266 289.5h3M267.5 288v3M267 297.5h3M268.5 296v3M267 309.5h3M268.5 308v3M268 309.5h3M269.5 308v3M268 299.5h3M269.5 298v3M269 292.5h3M270.5 291v3M269 296.5h3M270.5 295v3M270 313.5h3M271.5 312v3M270 329.5h3M271.5 328v3M271 329.5h3M272.5 328v3M272 302.5h3M273.5 301v3M272 294.5h3M273.5 293v3M273 295.5h3M274.5 294v3M274 307.5h3M275.5 306v3M274 313.5h3M275.5 312v3M274 309.5h3M275.5 308v3M275 302.5h3M276.5 301v3M275 302.5h3M276.5 301v3M276 301.5h3M277.5 300v3M277 305.5h3M278.5 304v3M277 311.5h3M278.5 310v3M278 304.5h3M279.5 303v3M278 295.5h3M279.5 294v3M279 293.5h3M280.5 292v3M280 299.5h3M281.5 298v3M280 318.5h3M281.5 317v3M281 317.5h3M282.5 316v3M281 309.5h3M282.5 308v3M282 302.5h3M283.5 301v3M282 293.5h3M283.5 292v3M283 296.5h3M284.5 295v3M283 305.5h3M284.5 304v3M284 310.5h3M285.5 309v3M284 317.5h3M285.5 316v3M285 304.5h3M286.5 303v3M285 287.5h3M286.5 286v3M286 296.5h3M287.5 295v3M287 306.5h3M288.5 305v3M287 308.5h3M288.5 307v3M288 282.5h3M289.5 281v3M288 284.5h3M289.5 283v3M289 304.5h3M290.5 303v3M290 304.5h3M291.5 303v3M290 297.5h3M291.5 296v3M291 300.5h3M292.5 299v3M291 318.5h3M292.5 317v3M292 325.5h3M293.5 324v3M293 299.5h3M294.5 298v3M293 290.5h3M294.5 289v3M294 293.5h3M295.5 292v3M294 300.5h3M295.5 299v3M295 306.5h3M296.5 305v3M295 304.5h3M296.5 303v3M296 302.5h3M297.5 301v3M296 291.5h3M297.5 290v3M297 290.5h3M298.5 289v3M297 298.5h3M298.5 297v3M298 308.5h3M299.5 307v3M298 314.5h3M299.5 313v3M299 309.5h3M300.5 308v3M300 298.5h3M301.5 297v3M300 299.5h3M301.5 298v3M301 301.5h3M302.5 300v3M301 312.5h3M302.5 311v3M302 301.5h3M303.5 300v3M302 300.5h3M303.5 299v3M303 305.5h3M304.5 304v3M303 308.5h3M304.5 307v3M304 303.5h3M305.5 302v3M305 292.5h3M306.5 291v3M305 295.5h3M306.5 294v3M306 306.5h3M307.5 305v3M306 320.5h3M307.5 319v3M307 319.5h3M308.5 318v3M308 300.5h3M309.5 299v3M308 295.5h3M309.5 294v3M309 296.5h3M310.5 295v3M309 304.5h3M310.5 303v3M310 307.5h3M311.5 306v3M310 308.5h3M311.5 307v3M311 303.5h3M312.5 302v3M311 294.5h3M312.5 293v3M312 297.5h3M313.5 296v3M312 310.5h3M313.5 309v3M313 309.5h3M314.5 308v3M314 300.5h3M315.5 299v3M314 299.5h3M315.5 298v3M315 304.5h3M316.5 303v3M315 312.5h3M316.5 311v3M316 313.5h3M317.5 312v3M316 306.5h3M317.5 305v3M317 295.5h3M318.5 294v3M317 292.5h3M318.5 291v3M318 304.5h3M319.5 303v3M318 321.5h3M319.5 320v3M319 304.5h3M320.5 303v3M319 295.5h3M320.5 294v3M320 295.5h3M321.5 294v3M320 297.5h3M321.5 296v3M321 306.5h3M322.5 305v3M321 309.5h3M322.5 308v3M322 306.5h3M323.5 305v3M322 273.5h3M323.5 272v3M323 299.5h3M324.5 298v3M324 325.5h3M325.5 324v3M324 307.5h3M325.5 306v3M325 297.5h3M326.5 296v3M325 297.5h3M326.5 296v3M326 301.5h3M327.5 300v3M326 308.5h3M327.5 307v3M327 308.5h3M328.5 307v3M327 304.5h3M328.5 303v3M328 301.5h3M329.5 300v3M329 292.5h3M330.5 291v3M329 291.5h3M330.5 290v3M330 304.5h3M331.5 303v3M330 308.5h3M331.5 307v3M331 312.5h3M332.5 311v3M331 303.5h3M332.5 302v3M332 285.5h3M333.5 284v3M333 289.5h3M334.5 288v3M333 318.5h3M334.5 317v3M334 314.5h3M335.5 313v3M334 288.5h3M335.5 287v3M335 284.5h3M336.5 283v3M336 305.5h3M337.5 304v3M336 308.5h3M337.5 307v3M337 306.5h3M338.5 305v3M337 292.5h3M338.5 291v3M338 291.5h3M339.5 290v3M338 294.5h3M339.5 293v3M339 312.5h3M340.5 311v3M339 320.5h3M340.5 319v3M340 304.5h3M341.5 303v3M341 276.5h3M342.5 275v3M341 277.5h3M342.5 276v3M342 294.5h3M343.5 293v3M342 309.5h3M343.5 308v3M343 310.5h3M344.5 309v3M344 304.5h3M345.5 303v3M344 285.5h3M345.5 284v3M345 290.5h3M346.5 289v3M345 307.5h3M346.5 306v3M346 314.5h3M347.5 313v3M346 306.5h3M347.5 305v3M347 297.5h3M348.5 296v3M348 292.5h3M349.5 291v3M348 302.5h3M349.5 301v3M348 302.5h3M349.5 301v3M349 309.5h3M350.5 308v3M349 309.5h3M350.5 308v3M350 300.5h3M351.5 299v3M350 293.5h3M351.5 292v3M351 290.5h3M352.5 289v3M352 300.5h3M353.5 299v3M352 311.5h3M353.5 310v3M353 309.5h3M354.5 308v3M354 298.5h3M355.5 297v3M354 293.5h3M355.5 292v3M355 295.5h3M356.5 294v3M355 315.5h3M356.5 314v3M356 325.5h3M357.5 324v3M356 309.5h3M357.5 308v3M357 290.5h3M358.5 289v3M358 293.5h3M359.5 292v3M358 313.5h3M359.5 312v3M359 321.5h3M360.5 320v3M359 305.5h3M360.5 304v3M360 295.5h3M361.5 294v3M360 303.5h3M361.5 302v3M361 307.5h3M362.5 306v3M362 306.5h3M363.5 305v3M362 296.5h3M363.5 295v3M363 289.5h3M364.5 288v3M363 299.5h3M364.5 298v3M364 304.5h3M365.5 303v3M364 309.5h3M365.5 308v3M365 305.5h3M366.5 304v3M365 302.5h3M366.5 301v3M366 294.5h3M367.5 293v3M367 305.5h3M368.5 304v3M367 317.5h3M368.5 316v3M368 307.5h3M369.5 306v3M368 295.5h3M369.5 294v3M369 295.5h3M370.5 294v3M369 300.5h3M370.5 299v3M370 305.5h3M371.5 304v3M371 306.5h3M372.5 305v3M371 302.5h3M372.5 301v3M372 293.5h3M373.5 292v3M372 299.5h3M373.5 298v3M373 320.5h3M374.5 319v3M374 300.5h3M375.5 299v3M374 293.5h3M375.5 292v3M375 302.5h3M376.5 301v3M376 317.5h3M377.5 316v3M376 320.5h3M377.5 319v3M377 307.5h3M378.5 306v3M377 296.5h3M378.5 295v3M378 290.5h3M379.5 289v3M378 300.5h3M379.5 299v3M379 313.5h3M380.5 312v3M379 315.5h3M380.5 314v3M380 308.5h3M381.5 307v3M380 288.5h3M381.5 287v3M381 293.5h3M382.5 292v3M382 321.5h3M383.5 320v3M382 325.5h3M383.5 324v3M383 300.5h3M384.5 299v3M383 297.5h3M384.5 296v3M383 293.5h3M384.5 292v3M384 310.5h3M385.5 309v3M385 334.5h3M386.5 333v3M385 302.5h3M386.5 301v3M386 296.5h3M387.5 295v3M386 296.5h3M387.5 295v3M387 300.5h3M388.5 299v3M388 306.5h3M389.5 305v3M388 311.5h3M389.5 310v3M389 299.5h3M390.5 298v3M389 294.5h3M390.5 293v3M390 299.5h3M391.5 298v3M390 302.5h3M391.5 301v3M391 310.5h3M392.5 309v3M392 305.5h3M393.5 304v3M392 293.5h3M393.5 292v3M393 286.5h3M394.5 285v3M393 297.5h3M394.5 296v3M394 314.5h3M395.5 313v3M394 312.5h3M395.5 311v3M395 298.5h3M396.5 297v3M395 294.5h3M396.5 293v3M396 301.5h3M397.5 300v3M396 310.5h3M397.5 309v3M397 315.5h3M398.5 314v3M397 308.5h3M398.5 307v3" stroke="#00ff00" fill="none" shape-rendering="crispEdges"/>
<polyline points="72.5,281.5 72.5,403.5 73.5,321.5 74.5,549.5 75.5,336.5 76.5,530.5 77.5,296.5 78.5,389.5 79.5,461.5 80.5,243.5 80.5,409.5 81.5,338.5 82.5,511.5 83.5,405.5 84.5,476.5 84.5,261.5 86.5,476.5 86.5,274.5 88.5,297.5 89.5,230.5 89.5,257.5 90.5,231.5 91.5,270.5 92.5,252.5 93.5,272.5 94.5,232.5 94.5,298.5 95.5,263.5 96.5,247.5 96.5,275.5 97.5,160.5 98.5,289.5 99.5,154.5 99.5,278.5 100.5,143.5 101.5,227.5 102.5,212.5 103.5,242.5 104.5,105.5 105.5,228.5 106.5,200.5 107.5,102.5 109.5,191.5 109.5,77.5 110.5,172.5 111.5,86.5 113.5,157.5 114.5,100.5 115.5,122.5 117.5,78.5 118.5,44.5 119.5,97.5 120.5,2.5 121.5,85.5 123.5,51.5 124.5,102.5 125.5,59.5 125.5,103.5 126.5,73.5 127.5,120.5 128.5,61.5 129.5,106.5 130.5,70.5 131.5,105.5 132.5,36.5 133.5,64.5 134.5,46.5 135.5,78.5 136.5,43.5 137.5,82.5 138.5,90.5 139.5,113.5 140.5,105.5 140.5,118.5 141.5,100.5 143.5,134.5 144.5,105.5 145.5,141.5 145.5,102.5 146.5,163.5 148.5,110.5 149.5,135.5 150.5,100.5 152.5,129.5 153.5,103.5 154.5,138.5 155.5,110.5 156.5,128.5 157.5,202.5 158.5,285.5 159.5,242.5 160.5,348.5 161.5,257.5 162.5,337.5 164.5,298.5 165.5,290.5 166.5,296.5 166.5,304.5 167.5,317.5 168.5,319.5 168.5,307.5 169.5,292.5 169.5,293.5 170.5,296.5 170.5,324.5 171.5,319.5 171.5,297.5 172.5,287.5 172.5,297.5 172.5,305.5 173.5,312.5 174.5,304.5 174.5,291.5 175.5,300.5 175.5,318.5 176.5,320.5 176.5,293.5 177.5,293.5 177.5,311.5 178.5,312.5 179.5,280.5 179.5,296.5 180.5,304.5 180.5,303.5 181.5,292.5 182.5,303.5 182.5,307.5 182.5,315.5 183.5,299.5 184.5,291.5 184.5,297.5 185.5,304.5 185.5,305.5 186.5,286.5 186.5,285.5 187.5,311.5 187.5,307.5 188.5,301.5 188.5,294.5 189.5,298.5 189.5,304.5 190.5,310.5 190.5,310.5 191.5,297.5 191.5,291.5 192.5,314.5 192.5,323.5 193.5,300.5 193.5,299.5 194.5,316.5 194.5,322.5 195.5,312.5 195.5,297.5 196.5,297.5 197.5,324.5 197.5,330.5 198.5,302.5 198.5,286.5 199.5,302.5 200.5,305.5 200.5,297.5 201.5,300.5 201.5,321.5 202.5,330.5 202.5,305.5 203.5,291.5 203.5,300.5 204.5,306.5 205.5,300.5 206.5,300.5 206.5,307.5 207.5,305.5 207.5,292.5 208.5,295.5 209.5,330.5 209.5,319.5 210.5,300.5 210.5,288.5 211.5,292.5 211.5,298.5 212.5,302.5 212.5,310.5 213.5,304.5 213.5,300.5 214.5,295.5 214.5,296.5 215.5,304.5 215.5,309.5 216.5,309.5 216.5,303.5 217.5,296.5 218.5,294.5 218.5,299.5 219.5,318.5 220.5,326.5 220.5,301.5 221.5,301.5 221.5,295.5 222.5,297.5 223.5,309.5 223.5,315.5 224.5,303.5 224.5,291.5 225.5,284.5 225.5,296.5 226.5,305.5 226.5,308.5 227.5,297.5 228.5,298.5 228.5,297.5 229.5,311.5 229.5,322.5 230.5,307.5 230.5,293.5 231.5,307.5 231.5,306.5 232.5,307.5 233.5,290.5 233.5,282.5 234.5,299.5 234.5,311.5 235.5,315.5 235.5,303.5 236.5,279.5 236.5,269.5 237.5,295.5 237.5,310.5 238.5,318.5 238.5,308.5 239.5,284.5 239.5,296.5 240.5,323.5 240.5,301.5 241.5,288.5 242.5,291.5 242.5,304.5 243.5,307.5 243.5,302.5 244.5,298.5 244.5,295.5 245.5,305.5 246.5,317.5 246.5,309.5 247.5,287.5 247.5,284.5 248.5,298.5 248.5,309.5 249.5,310.5 250.5,300.5 250.5,291.5 251.5,289.5 251.5,295.5 252.5,308.5 252.5,311.5 253.5,305.5 253.5,301.5 254.5,280.5 255.5,307.5 255.5,320.5 256.5,289.5 256.5,286.5 257.5,310.5 257.5,309.5 257.5,300.5 258.5,293.5 259.5,300.5 259.5,308.5 260.5,317.5 260.5,310.5 261.5,299.5 261.5,289.5 262.5,302.5 262.5,310.5 263.5,304.5 263.5,290.5 264.5,295.5 265.5,299.5 265.5,314.5 266.5,318.5 266.5,310.5 267.5,301.5 267.5,289.5 268.5,297.5 268.5,309.5 269.5,309.5 269.5,299.5 270.5,292.5 270.5,296.5 271.5,313.5 271.5,329.5 272.5,329.5 273.5,302.5 273.5,294.5 274.5,295.5 275.5,307.5 275.5,313.5 275.5,309.5 276.5,302.5 276.5,302.5 277.5,301.5 278.5,305.5 278.5,311.5 279.5,304.5 279.5,295.5 280.5,293.5 281.5,299.5 281.5,318.5 282.5,317.5 282.5,309.5 283.5,302.5 283.5,293.5 284.5,296.5 284.5,305.5 285.5,310.5 285.5,317.5 286.5,304.5 286.5,287.5 287.5,296.5 288.5,306.5 288.5,308.5 289.5,282.5 289.5,284.5 290.5,304.5 291.5,304.5 291.5,297.5 292.5,300.5 292.5,318.5 293.5,325.5 294.5,299.5 294.5,290.5 295.5,293.5 295.5,300.5 296.5,306.5 296.5,304.5 297.5,302.5 297.5,291.5 298.5,290.5 298.5,298.5 299.5,308.5 299.5,314.5 300.5,309.5 301.5,298.5 301.5,299.5 302.5,301.5 302.5,312.5 303.5,301.5 303.5,300.5 304.5,305.5 304.5,308.5 305.5,303.5 306.5,292.5 306.5,295.5 307.5,306.5 307.5,320.5 308.5,319.5 309.5,300.5 309.5,295.5 310.5,296.5 310.5,304.5 311.5,307.5 311.5,308.5 312.5,303.5 312.5,294.5 313.5,297.5 313.5,310.5 314.5,309.5 315.5,300.5 315.5,299.5 316.5,304.5 316.5,312.5 317.5,313.5 317.5,306.5 318.5,295.5 318.5,292.5 319.5,304.5 319.5,321.5 320.5,304.5 320.5,295.5 321.5,295.5 321.5,297.5 322.5,306.5 322.5,309.5 323.5,306.5 323.5,273.5 324.5,299.5 325.5,325.5 325.5,307.5 326.5,297.5 326.5,297.5 327.5,301.5 327.5,308.5 328.5,308.5 328.5,304.5 329.5,301.5 330.5,292.5 330.5,291.5 331.5,304.5 331.5,308.5 332.5,312.5 332.5,303.5 333.5,285.5 334.5,289.5 334.5,318.5 335.5,314.5 335.5,288.5 336.5,284.5 337.5,305.5 337.5,308.5 338.5,306.5 338.5,292.5 339.5,291.5 339.5,294.5 340.5,312.5 340.5,320.5 341.5,304.5 342.5,276.5 342.5,277.5 343.5,294.5 343.5,309.5 344.5,310.5 345.5,304.5 345.5,285.5 346.5,290.5 346.5,307.5 347.5,314.5 347.5,306.5 348.5,297.5 349.5,292.5 349.5,302.5 349.5,302.5 350.5,309.5 350.5,309.5 351.5,300.5 351.5,293.5 352.5,290.5 353.5,300.5 353.5,311.5 354.5,309.5 355.5,298.5 355.5,293.5 356.5,295.5 356.5,315.5 357.5,325.5 357.5,309.5 358.5,290.5 359.5,293.5 359.5,313.5 360.5,321.5 360.5,305.5 361.5,295.5 361.5,303.5 362.5,307.5 363.5,306.5 363.5,296.5 364.5,289.5 364.5,299.5 365.5,304.5 365.5,309.5 366.5,305.5 366.5,302.5 367.5,294.5 368.5,305.5 368.5,317.5 369.5,307.5 369.5,295.5 370.5,295.5 370.5,300.5 371.5,305.5 372.5,306.5 372.5,302.5 373.5,293.5 373.5,299.5 374.5,320.5 375.5,300.5 375.5,293.5 376.5,302.5 377.5,317.5 377.5,320.5 378.5,307.5 378.5,296.5 379.5,290.5 379.5,300.5 380.5,313.5 380.5,315.5 381.5,308.5 381.5,288.5 382.5,293.5 383.5,321.5 383.5,325.5 384.5,300.5 384.5,297.5 384.5,293.5 385.5,310.5 386.5,334.5 386.5,302.5 387.5,296.5 387.5,296.5 388.5,300.5 389.5,306.5 389.5,311.5 390.5,299.5 390.5,294.5 391.5,299.5 391.5,302.5 392.5,310.5 393.5,305.5 393.5,293.5 394.5,286.5 394.5,297.5 395.5,314.5 395.5,312.5 396.5,298.5 396.5,294.5 397.5,301.5 397.5,310.5 398.5,315.5 398.5,308.5" fill="none" stroke="#2e8b57" stroke-width="1" shape-rendering="crispEdges"/>
<path d="M71 307.5h3M72.5 306v3M71 574.5h3M72.5 573v3M72 381.5h3M73.5 380v3M73 535.5h3M74.5 534v3M74 211.5h3M75.5 210v3M75 386.5h3M76.5 385v3M76 211.5h3M77.5 210v3M77 161.5h3M78.5 160v3M78 303.5h3M79.5 302v3M79 440.5h3M80.5 439v3M79 546.5h3M80.5 545v3M80 523.5h3M81.5 522v3M81 376.5h3M82.5 375v3M82 507.5h3M83.5 506v3M83 247.5h3M84.5 246v3M83 529.5h3M84.5 528v3M85 494.5h3M86.5 493v3M85 320.5h3M86.5 319v3M87 229.5h3M88.5 228v3M88 232.5h3M89.5 231v3M88 222.5h3M89.5 221v3M89 327.5h3M90.5 326v3M90 329.5h3M91.5 328v3M91 173.5h3M92.5 172v3M92 371.5h3M93.5 370v3M93 258.5h3M94.5 257v3M93 406.5h3M94.5 405v3M94 167.5h3M95.5 166v3M95 383.5h3M96.5 382v3M95 384.5h3M96.5 383v3M96 149.5h3M97.5 148v3M97 266.5h3M98.5 265v3M98 136.5h3M99.5 135v3M98 363.5h3M99.5 362v3M99 297.5h3M100.5 296v3M100 278.5h3M101.5 277v3M101 157.5h3M102.5 156v3M102 324.5h3M103.5 323v3M103 174.5h3M104.5 173v3M104 348.5h3M105.5 347v3M105 175.5h3M106.5 174v3M106 291.5h3M107.5 290v3M108 374.5h3M109.5 373v3M108 112.5h3M109.5 111v3M109 163.5h3M110.5 162v3M110 260.5h3M111.5 259v3M112 288.5h3M113.5 287v3M113 171.5h3M114.5 170v3M114 310.5h3M115.5 309v3M116 278.5h3M117.5 277v3M117 353.5h3M118.5 352v3M118 172.5h3M119.5 171v3M119 329.5h3M120.5 328v3M120 171.5h3M121.5 170v3M122 328.5h3M123.5 327v3M123 177.5h3M124.5 176v3M124 365.5h3M125.5 364v3M124 312.5h3M125.5 311v3M125 274.5h3M126.5 273v3M126 333.5h3M127.5 332v3M127 315.5h3M128.5 314v3M128 287.5h3M129.5 286v3M129 256.5h3M130.5 255v3M130 295.5h3M131.5 294v3M131 340.5h3M132.5 339v3M132 262.5h3M133.5 261v3M133 202.5h3M134.5 201v3M134 248.5h3M135.5 247v3M135 291.5h3M136.5 290v3M136 215.5h3M137.5 214v3M137 337.5h3M138.5 336v3M138 302.5h3M139.5 301v3M139 320.5h3M140.5 319v3M139 269.5h3M140.5 268v3M140 234.5h3M141.5 233v3M142 337.5h3M143.5 336v3M143 286.5h3M144.5 285v3M144 312.5h3M145.5 311v3M144 303.5h3M145.5 302v3M145 287.5h3M146.5 286v3M147 278.5h3M148.5 277v3M148 297.5h3M149.5 296v3M149 263.5h3M150.5 262v3M151 335.5h3M152.5 334v3M152 252.5h3M153.5 251v3M153 340.5h3M154.5 339v3M154 316.5h3M155.5 315v3M155 262.5h3M156.5 261v3M156 328.5h3M157.5 327v3M157 286.5h3M158.5 285v3M158 347.5h3M159.5 346v3M159 328.5h3M160.5 327v3M160 394.5h3M161.5 393v3M161 305.5h3M162.5 304v3M163 393.5h3M164.5 392v3M164 282.5h3M165.5 281v3M165 307.5h3M166.5 306v3M165 322.5h3M166.5 321v3M166 311.5h3M167.5 310v3M167 298.5h3M168.5 297v3M167 306.5h3M168.5 305v3M168 309.5h3M169.5 308v3M168 346.5h3M169.5 345v3M169 337.5h3M170.5 336v3M169 302.5h3M170.5 301v3M170 276.5h3M171.5 275v3M170 300.5h3M171.5 299v3M171 340.5h3M172.5 339v3M171 316.5h3M172.5 315v3M171 288.5h3M172.5 287v3M172 271.5h3M173.5 270v3M173 282.5h3M174.5 281v3M173 308.5h3M174.5 307v3M174 322.5h3M175.5 321v3M174 319.5h3M175.5 318v3M175 303.5h3M176.5 302v3M175 286.5h3M176.5 285v3M176 300.5h3M177.5 299v3M176 332.5h3M177.5 331v3M177 301.5h3M178.5 300v3M178 279.5h3M179.5 278v3M178 280.5h3M179.5 279v3M179 300.5h3M180.5 299v3M179 318.5h3M180.5 317v3M180 325.5h3M181.5 324v3M181 306.5h3M182.5 305v3M181 292.5h3M182.5 291v3M181 279.5h3M182.5 278v3M182 293.5h3M183.5 292v3M183 325.5h3M184.5 324v3M183 314.5h3M184.5 313v3M184 304.5h3M185.5 303v3M184 301.5h3M185.5 300v3M185 297.5h3M186.5 296v3M185 307.5h3M186.5 306v3M186 314.5h3M187.5 313v3M186 299.5h3M187.5 298v3M187 285.5h3M188.5 284v3M187 287.5h3M188.5 286v3M188 300.5h3M189.5 299v3M188 315.5h3M189.5 314v3M189 331.5h3M190.5 330v3M189 309.5h3M190.5 308v3M190 292.5h3M191.5 291v3M190 300.5h3M191.5 299v3M191 301.5h3M192.5 300v3M191 301.5h3M192.5 300v3M192 300.5h3M193.5 299v3M192 287.5h3M193.5 286v3M193 304.5h3M194.5 303v3M193 311.5h3M194.5 310v3M194 306.5h3M195.5 305v3M194 283.5h3M195.5 282v3M195 283.5h3M196.5 282v3M196 301.5h3M197.5 300v3M196 321.5h3M197.5 320v3M197 319.5h3M198.5 318v3M197 299.5h3M198.5 298v3M198 275.5h3M199.5 274v3M199 286.5h3M200.5 285v3M199 301.5h3M200.5 300v3M200 314.5h3M201.5 313v3M200 306.5h3M201.5 305v3M201 295.5h3M202.5 294v3M201 288.5h3M202.5 287v3M202 296.5h3M203.5 295v3M202 305.5h3M203.5 304v3M203 301.5h3M204.5 300v3M204 285.5h3M205.5 284v3M205 292.5h3M206.5 291v3M205 313.5h3M206.5 312v3M206 303.5h3M207.5 302v3M206 290.5h3M207.5 289v3M207 294.5h3M208.5 293v3M208 309.5h3M209.5 308v3M208 299.5h3M209.5 298v3M209 293.5h3M210.5 292v3M209 297.5h3M210.5 296v3M210 303.5h3M211.5 302v3M210 315.5h3M211.5 314v3M211 295.5h3M212.5 294v3M211 266.5h3M212.5 265v3M212 293.5h3M213.5 292v3M212 304.5h3M213.5 303v3M213 302.5h3M214.5 301v3M213 295.5h3M214.5 294v3M214 294.5h3M215.5 293v3M214 313.5h3M215.5 312v3M215 318.5h3M216.5 317v3M215 295.5h3M216.5 294v3M216 282.5h3M217.5 281v3M217 286.5h3M218.5 285v3M217 302.5h3M218.5 301v3M218 309.5h3M219.5 308v3M219 304.5h3M220.5 303v3M219 281.5h3M220.5 280v3M220 277.5h3M221.5 276v3M220 301.5h3M221.5 300v3M221 317.5h3M222.5 316v3M222 301.5h3M223.5 300v3M222 289.5h3M223.5 288v3M223 286.5h3M224.5 285v3M223 293.5h3M224.5 292v3M224 307.5h3M225.5 306v3M224 312.5h3M225.5 311v3M225 296.5h3M226.5 295v3M225 282.5h3M226.5 281v3M226 299.5h3M227.5 298v3M227 311.5h3M228.5 310v3M227 310.5h3M228.5 309v3M228 294.5h3M229.5 293v3M228 290.5h3M229.5 289v3M229 303.5h3M230.5 302v3M229 301.5h3M230.5 300v3M230 292.5h3M231.5 291v3M230 277.5h3M231.5 276v3M231 298.5h3M232.5 297v3M232 323.5h3M233.5 322v3M232 307.5h3M233.5 306v3M233 283.5h3M234.5 282v3M233 286.5h3M234.5 285v3M234 295.5h3M235.5 294v3M234 317.5h3M235.5 316v3M235 320.5h3M236.5 319v3M235 306.5h3M236.5 305v3M236 289.5h3M237.5 288v3M236 285.5h3M237.5 284v3M237 296.5h3M238.5 295v3M237 314.5h3M238.5 313v3M238 316.5h3M239.5 315v3M238 309.5h3M239.5 308v3M239 297.5h3M240.5 296v3M239 290.5h3M240.5 289v3M240 289.5h3M241.5 288v3M241 297.5h3M242.5 296v3M241 315.5h3M242.5 314v3M242 314.5h3M243.5 313v3M242 305.5h3M243.5 304v3M243 284.5h3M244.5 283v3M243 290.5h3M244.5 289v3M244 297.5h3M245.5 296v3M245 305.5h3M246.5 304v3M245 302.5h3M246.5 301v3M246 291.5h3M247.5 290v3M246 287.5h3M247.5 286v3M247 299.5h3M248.5 298v3M247 314.5h3M248.5 313v3M248 318.5h3M249.5 317v3M249 305.5h3M250.5 304v3M249 291.5h3M250.5 290v3M250 281.5h3M251.5 280v3M250 299.5h3M251.5 298v3M251 315.5h3M252.5 314v3M251 301.5h3M252.5 300v3M252 292.5h3M253.5 291v3M252 295.5h3M253.5 294v3M253 303.5h3M254.5 302v3M254 301.5h3M255.5 300v3M254 296.5h3M255.5 295v3M255 292.5h3M256.5 291v3M255 295.5h3M256.5 294v3M256 306.5h3M257.5 305v3M256 313.5h3M257.5 312v3M256 305.5h3M257.5 304v3M257 300.5h3M258.5 299v3M258 292.5h3M259.5 291v3M258 295.5h3M259.5 294v3M259 299.5h3M260.5 298v3M259 309.5h3M260.5 308v3M260 302.5h3M261.5 301v3M260 295.5h3M261.5 294v3M261 293.5h3M262.5 292v3M261 297.5h3M262.5 296v3M262 304.5h3M263.5 303v3M262 318.5h3M263.5 317v3M263 319.5h3M264.5 318v3M264 297.5h3M265.5 296v3M264 288.5h3M265.5 287v3M265 294.5h3M266.5 293v3M265 308.5h3M266.5 307v3M266 299.5h3M267.5 298v3M266 275.5h3M267.5 274v3M267 275.5h3M268.5 274v3M267 300.5h3M268.5 299v3M268 313.5h3M269.5 312v3M268 314.5h3M269.5 313v3M269 296.5h3M270.5 295v3M269 293.5h3M270.5 292v3M270 291.5h3M271.5 290v3M270 298.5h3M271.5 297v3M271 302.5h3M272.5 301v3M272 301.5h3M273.5 300v3M272 296.5h3M273.5 295v3M273 292.5h3M274.5 291v3M274 295.5h3M275.5 294v3M274 300.5h3M275.5 299v3M274 307.5h3M275.5 306v3M275 300.5h3M276.5 299v3M275 291.5h3M276.5 290v3M276 290.5h3M277.5 289v3M277 303.5h3M278.5 302v3M277 304.5h3M278.5 303v3M278 285.5h3M279.5 284v3M278 284.5h3M279.5 283v3M279 311.5h3M280.5 310v3M280 303.5h3M281.5 302v3M280 287.5h3M281.5 286v3M281 277.5h3M282.5 276v3M281 284.5h3M282.5 283v3M282 296.5h3M283.5 295v3M282 315.5h3M283.5 314v3M283 322.5h3M284.5 321v3M283 308.5h3M284.5 307v3M284 288.5h3M285.5 287v3M284 298.5h3M285.5 297v3M285 303.5h3M286.5 302v3M285 297.5h3M286.5 296v3M286 293.5h3M287.5 292v3M287 293.5h3M288.5 292v3M287 306.5h3M288.5 305v3M288 310.5h3M289.5 309v3M288 288.5h3M289.5 287v3M289 291.5h3M290.5 290v3M290 300.5h3M291.5 299v3M290 298.5h3M291.5 297v3M291 296.5h3M292.5 295v3M291 297.5h3M292.5 296v3M292 298.5h3M293.5 297v3M293 302.5h3M294.5 301v3M293 305.5h3M294.5 304v3M294 300.5h3M295.5 299v3M294 298.5h3M295.5 297v3M295 295.5h3M296.5 294v3M295 297.5h3M296.5 296v3M296 305.5h3M297.5 304v3M296 308.5h3M297.5 307v3M297 307.5h3M298.5 306v3M297 299.5h3M298.5 298v3M298 290.5h3M299.5 289v3M298 292.5h3M299.5 291v3M299 302.5h3M300.5 301v3M300 306.5h3M301.5 305v3M300 304.5h3M301.5 303v3M301 284.5h3M302.5 283v3M301 274.5h3M302.5 273v3M302 292.5h3M303.5 291v3M302 307.5h3M303.5 306v3M303 306.5h3M304.5 305v3M303 291.5h3M304.5 290v3M304 280.5h3M305.5 279v3M305 310.5h3M306.5 309v3M305 327.5h3M306.5 326v3M306 294.5h3M307.5 293v3M306 294.5h3M307.5 293v3M307 298.5h3M308.5 297v3M308 318.5h3M309.5 317v3M308 302.5h3M309.5 301v3M309 283.5h3M310.5 282v3M309 283.5h3M310.5 282v3M310 294.5h3M311.5 293v3M310 308.5h3M311.5 307v3M311 307.5h3M312.5 306v3M311 296.5h3M312.5 295v3M312 295.5h3M313.5 294v3M312 294.5h3M313.5 293v3M313 299.5h3M314.5 298v3M314 312.5h3M315.5 311v3M314 311.5h3M315.5 310v3M315 291.5h3M316.5 290v3M315 282.5h3M316.5 281v3M316 291.5h3M317.5 290v3M316 314.5h3M317.5 313v3M317 329.5h3M318.5 328v3M317 309.5h3M318.5 308v3M318 292.5h3M319.5 291v3M318 289.5h3M319.5 288v3M319 307.5h3M320.5 306v3M319 313.5h3M320.5 312v3M320 306.5h3M321.5 305v3M320 278.5h3M321.5 277v3M321 265.5h3M322.5 264v3M321 294.5h3M322.5 293v3M322 310.5h3M323.5 309v3M322 308.5h3M323.5 307v3M323 291.5h3M324.5 290v3M324 293.5h3M325.5 292v3M324 304.5h3M325.5 303v3M325 315.5h3M326.5 314v3M325 309.5h3M326.5 308v3M326 287.5h3M327.5 286v3M326 289.5h3M327.5 288v3M327 291.5h3M328.5 290v3M327 303.5h3M328.5 302v3M328 312.5h3M329.5 311v3M329 305.5h3M330.5 304v3M329 293.5h3M330.5 292v3M330 296.5h3M331.5 295v3M330 320.5h3M331.5 319v3M331 305.5h3M332.5 304v3M331 279.5h3M332.5 278v3M332 301.5h3M333.5 300v3M333 318.5h3M334.5 317v3M333 298.5h3M334.5 297v3M334 279.5h3M335.5 278v3M334 303.5h3M335.5 302v3M335 312.5h3M336.5 311v3M336 303.5h3M337.5 302v3M336 284.5h3M337.5 283v3M337 294.5h3M338.5 293v3M337 328.5h3M338.5 327v3M338 316.5h3M339.5 315v3M338 293.5h3M339.5 292v3M339 274.5h3M340.5 273v3M339 296.5h3M340.5 295v3M340 313.5h3M341.5 312v3M341 307.5h3M342.5 306v3M341 273.5h3M342.5 272v3M342 275.5h3M343.5 274v3M342 305.5h3M343.5 304v3M343 305.5h3M344.5 304v3M344 299.5h3M345.5 298v3M344 289.5h3M345.5 288v3M345 290.5h3M346.5 289v3M345 302.5h3M346.5 301v3M346 309.5h3M347.5 308v3M346 308.5h3M347.5 307v3M347 297.5h3M348.5 296v3M348 288.5h3M349.5 287v3M348 296.5h3M349.5 295v3M348 308.5h3M349.5 307v3M349 308.5h3M350.5 307v3M349 292.5h3M350.5 291v3M350 280.5h3M351.5 279v3M350 287.5h3M351.5 286v3M351 303.5h3M352.5 302v3M352 312.5h3M353.5 311v3M352 303.5h3M353.5 302v3M353 291.5h3M354.5 290v3M354 295.5h3M355.5 294v3M354 307.5h3M355.5 306v3M355 302.5h3M356.5 301v3M355 289.5h3M356.5 288v3M356 293.5h3M357.5 292v3M356 301.5h3M357.5 300v3M357 307.5h3M358.5 306v3M358 301.5h3M359.5 300v3M358 294.5h3M359.5 293v3M359 311.5h3M360.5 310v3M359 316.5h3M360.5 315v3M360 300.5h3M361.5 299v3M360 293.5h3M361.5 292v3M361 299.5h3M362.5 298v3M362 304.5h3M363.5 303v3M362 300.5h3M363.5 299v3M363 294.5h3M364.5 293v3M363 301.5h3M364.5 300v3M364 302.5h3M365.5 301v3M364 296.5h3M365.5 295v3M365 291.5h3M366.5 290v3M365 291.5h3M366.5 290v3M366 300.5h3M367.5 299v3M367 318.5h3M368.5 317v3M367 314.5h3M368.5 313v3M368 296.5h3M369.5 295v3M368 289.5h3M369.5 288v3M369 285.5h3M370.5 284v3M369 295.5h3M370.5 294v3M370 310.5h3M371.5 309v3M371 313.5h3M372.5 312v3M371 300.5h3M372.5 299v3M372 290.5h3M373.5 289v3M372 291.5h3M373.5 290v3M373 303.5h3M374.5 302v3M374 308.5h3M375.5 307v3M374 297.5h3M375.5 296v3M375 294.5h3M376.5 293v3M376 311.5h3M377.5 310v3M376 320.5h3M377.5 319v3M377 294.5h3M378.5 293v3M377 289.5h3M378.5 288v3M378 292.5h3M379.5 291v3M378 308.5h3M379.5 307v3M379 301.5h3M380.5 300v3M379 298.5h3M380.5 297v3M380 298.5h3M381.5 297v3M380 298.5h3M381.5 297v3M381 307.5h3M382.5 306v3M382 306.5h3M383.5 305v3M382 302.5h3M383.5 301v3M383 281.5h3M384.5 280v3M383 275.5h3M384.5 274v3M383 284.5h3M384.5 283v3M384 305.5h3M385.5 304v3M385 304.5h3M386.5 303v3M385 298.5h3M386.5 297v3M386 290.5h3M387.5 289v3M386 287.5h3M387.5 286v3M387 303.5h3M388.5 302v3M388 302.5h3M389.5 301v3M388 296.5h3M389.5 295v3M389 290.5h3M390.5 289v3M389 296.5h3M390.5 295v3M390 305.5h3M391.5 304v3M390 307.5h3M391.5 306v3M391 279.5h3M392.5 278v3M392 273.5h3M393.5 272v3M392 292.5h3M393.5 291v3M393 302.5h3M394.5 301v3M393 312.5h3M394.5 311v3M394 304.5h3M395.5 303v3M394 297.5h3M395.5 296v3M395 299.5h3M396.5 298v3M395 306.5h3M396.5 305v3M396 301.5h3M397.5 300v3M396 297.5h3M397.5 296v3M397 293.5h3M398.5 292v3M397 295.5h3M398.5 294v3" stroke="#0000ff" fill="none" shape-rendering="crispEdges"/>
<polyline points="72.5,307.5 72.5,574.5 73.5,381.5 74.5,535.5 75.5,211.5 76.5,386.5 77.5,211.5 78.5,161.5 79.5,303.5 80.5,440.5 80.5,546.5 81.5,523.5 82.5,376.5 83.5,507.5 84.5,247.5 84.5,529.5 86.5,494.5 86.5,320.5 88.5,229.5 89.5,232.5 89.5,222.5 90.5,327.5 91.5,329.5 92.5,173.5 93.5,371.5 94.5,258.5 94.5,406.5 95.5,167.5 96.5,383.5 96.5,384.5 97.5,149.5 98.5,266.5 99.5,136.5 99.5,363.5 100.5,297.5 101.5,278.5 102.5,157.5 103.5,324.5 104.5,174.5 105.5,348.5 106.5,175.5 107.5,291.5 109.5,374.5 109.5,112.5 110.5,163.5 111.5,260.5 113.5,288.5 114.5,171.5 115.5,310.5 117.5,278.5 118.5,353.5 119.5,172.5 120.5,329.5 121.5,171.5 123.5,328.5 124.5,177.5 125.5,365.5 125.5,312.5 126.5,274.5 127.5,333.5 128.5,315.5 129.5,287.5 130.5,256.5 131.5,295.5 132.5,340.5 133.5,262.5 134.5,202.5 135.5,248.5 136.5,291.5 137.5,215.5 138.5,337.5 139.5,302.5 140.5,320.5 140.5,269.5 141.5,234.5 143.5,337.5 144.5,286.5 145.5,312.5 145.5,303.5 146.5,287.5 148.5,278.5 149.5,297.5 150.5,263.5 152.5,335.5 153.5,252.5 154.5,340.5 155.5,316.5 156.5,262.5 157.5,328.5 158.5,286.5 159.5,347.5 160.5,328.5 161.5,394.5 162.5,305.5 164.5,393.5 165.5,282.5 166.5,307.5 166.5,322.5 167.5,311.5 168.5,298.5 168.5,306.5 169.5,309.5 169.5,346.5 170.5,337.5 170.5,302.5 171.5,276.5 171.5,300.5 172.5,340.5 172.5,316.5 172.5,288.5 173.5,271.5 174.5,282.5 174.5,308.5 175.5,322.5 175.5,319.5 176.5,303.5 176.5,286.5 177.5,300.5 177.5,332.5 178.5,301.5 179.5,279.5 179.5,280.5 180.5,300.5 180.5,318.5 181.5,325.5 182.5,306.5 182.5,292.5 182.5,279.5 183.5,293.5 184.5,325.5 184.5,314.5 185.5,304.5 185.5,301.5 186.5,297.5 186.5,307.5 187.5,314.5 187.5,299.5 188.5,285.5 188.5,287.5 189.5,300.5 189.5,315.5 190.5,331.5 190.5,309.5 191.5,292.5 191.5,300.5 192.5,301.5 192.5,301.5 193.5,300.5 193.5,287.5 194.5,304.5 194.5,311.5 195.5,306.5 195.5,283.5 196.5,283.5 197.5,301.5 197.5,321.5 198.5,319.5 198.5,299.5 199.5,275.5 200.5,286.5 200.5,301.5 201.5,314.5 201.5,306.5 202.5,295.5 202.5,288.5 203.5,296.5 203.5,305.5 204.5,301.5 205.5,285.5 206.5,292.5 206.5,313.5 207.5,303.5 207.5,290.5 208.5,294.5 209.5,309.5 209.5,299.5 210.5,293.5 210.5,297.5 211.5,303.5 211.5,315.5 212.5,295.5 212.5,266.5 213.5,293.5 213.5,304.5 214.5,302.5 214.5,295.5 215.5,294.5 215.5,313.5 216.5,318.5 216.5,295.5 217.5,282.5 218.5,286.5 218.5,302.5 219.5,309.5 220.5,304.5 220.5,281.5 221.5,277.5 221.5,301.5 222.5,317.5 223.5,301.5 223.5,289.5 224.5,286.5 224.5,293.5 225.5,307.5 225.5,312.5 226.5,296.5 226.5,282.5 227.5,299.5 228.5,311.5 228.5,310.5 229.5,294.5 229.5,290.5 230.5,303.5 230.5,301.5 231.5,292.5 231.5,277.5 232.5,298.5 233.5,323.5 233.5,307.5 234.5,283.5 234.5,286.5 235.5,295.5 235.5,317.5 236.5,320.5 236.5,306.5 237.5,289.5 237.5,285.5 238.5,296.5 238.5,314.5 239.5,316.5 239.5,309.5 240.5,297.5 240.5,290.5 241.5,289.5 242.5,297.5 242.5,315.5 243.5,314.5 243.5,305.5 244.5,284.5 244.5,290.5 245.5,297.5 246.5,305.5 246.5,302.5 247.5,291.5 247.5,287.5 248.5,299.5 248.5,314.5 249.5,318.5 250.5,305.5 250.5,291.5 251.5,281.5 251.5,299.5 252.5,315.5 252.5,301.5 253.5,292.5 253.5,295.5 254.5,303.5 255.5,301.5 255.5,296.5 256.5,292.5 256.5,295.5 257.5,306.5 257.5,313.5 257.5,305.5 258.5,300.5 259.5,292.5 259.5,295.5 260.5,299.5 260.5,309.5 261.5,302.5 261.5,295.5 262.5,293.5 262.5,297.5 263.5,304.5 263.5,318.5 264.5,319.5 265.5,297.5 265.5,288.5 266.5,294.5 266.5,308.5 267.5,299.5 267.5,275.5 268.5,275.5 268.5,300.5 269.5,313.5 269.5,314.5 270.5,296.5 270.5,293.5 271.5,291.5 271.5,298.5 272.5,302.5 273.5,301.5 273.5,296.5 274.5,292.5 275.5,295.5 275.5,300.5 275.5,307.5 276.5,300.5 276.5,291.5 277.5,290.5 278.5,303.5 278.5,304.5 279.5,285.5 279.5,284.5 280.5,311.5 281.5,303.5 281.5,287.5 282.5,277.5 282.5,284.5 283.5,296.5 283.5,315.5 284.5,322.5 284.5,308.5 285.5,288.5 285.5,298.5 286.5,303.5 286.5,297.5 287.5,293.5 288.5,293.5 288.5,306.5 289.5,310.5 289.5,288.5 290.5,291.5 291.5,300.5 291.5,298.5 292.5,296.5 292.5,297.5 293.5,298.5 294.5,302.5 294.5,305.5 295.5,300.5 295.5,298.5 296.5,295.5 296.5,297.5 297.5,305.5 297.5,308.5 298.5,307.5 298.5,299.5 299.5,290.5 299.5,292.5 300.5,302.5 301.5,306.5 301.5,304.5 302.5,284.5 302.5,274.5 303.5,292.5 303.5,307.5 304.5,306.5 304.5,291.5 305.5,280.5 306.5,310.5 306.5,327.5 307.5,294.5 307.5,294.5 308.5,298.5 309.5,318.5 309.5,302.5 310.5,283.5 310.5,283.5 311.5,294.5 311.5,308.5 312.5,307.5 312.5,296.5 313.5,295.5 313.5,294.5 314.5,299.5 315.5,312.5 315.5,311.5 316.5,291.5 316.5,282.5 317.5,291.5 317.5,314.5 318.5,329.5 318.5,309.5 319.5,292.5 319.5,289.5 320.5,307.5 320.5,313.5 321.5,306.5 321.5,278.5 322.5,265.5 322.5,294.5 323.5,310.5 323.5,308.5 324.5,291.5 325.5,293.5 325.5,304.5 326.5,315.5 326.5,309.5 327.5,287.5 327.5,289.5 328.5,291.5 328.5,303.5 329.5,312.5 330.5,305.5 330.5,293.5 331.5,296.5 331.5,320.5 332.5,305.5 332.5,279.5 333.5,301.5 334.5,318.5 334.5,298.5 335.5,279.5 335.5,303.5 336.5,312.5 337.5,303.5 337.5,284.5 338.5,294.5 338.5,328.5 339.5,316.5 339.5,293.5 340.5,274.5 340.5,296.5 341.5,313.5 342.5,307.5 342.5,273.5 343.5,275.5 343.5,305.5 344.5,305.5 345.5,299.5 345.5,289.5 346.5,290.5 346.5,302.5 347.5,309.5 347.5,308.5 348.5,297.5 349.5,288.5 349.5,296.5 349.5,308.5 350.5,308.5 350.5,292.5 351.5,280.5 351.5,287.5 352.5,303.5 353.5,312.5 353.5,303.5 354.5,291.5 355.5,295.5 355.5,307.5 356.5,302.5 356.5,289.5 357.5,293.5 357.5,301.5 358.5,307.5 359.5,301.5 359.5,294.5 360.5,311.5 360.5,316.5 361.5,300.5 361.5,293.5 362.5,299.5 363.5,304.5 363.5,300.5 364.5,294.5 364.5,301.5 365.5,302.5 365.5,296.5 366.5,291.5 366.5,291.5 367.5,300.5 368.5,318.5 368.5,314.5 369.5,296.5 369.5,289.5 370.5,285.5 370.5,295.5 371.5,310.5 372.5,313.5 372.5,300.5 373.5,290.5 373.5,291.5 374.5,303.5 375.5,308.5 375.5,297.5 376.5,294.5 377.5,311.5 377.5,320.5 378.5,294.5 378.5,289.5 379.5,292.5 379.5,308.5 380.5,301.5 380.5,298.5 381.5,298.5 381.5,298.5 382.5,307.5 383.5,306.5 383.5,302.5 384.5,281.5 384.5,275.5 384.5,284.5 385.5,305.5 386.5,304.5 386.5,298.5 387.5,290.5 387.5,287.5 388.5,303.5 389.5,302.5 389.5,296.5 390.5,290.5 390.5,296.5 391.5,305.5 391.5,307.5 392.5,279.5 393.5,273.5 393.5,292.5 394.5,302.5 394.5,312.5 395.5,304.5 395.5,297.5 396.5,299.5 396.5,306.5 397.5,301.5 397.5,297.5 398.5,293.5 398.5,295.5" fill="none" stroke="#191970" stroke-width="1" shape-rendering="crispEdges"/>
<path d="M71 -1.5h3M72.5 -2v3M71 103.5h3M72.5 102v3M74 8.5h3M75.5 7v3M75 113.5h3M76.5 112v3M76 36.5h3M77.5 35v3M77 9.5h3M78.5 8v3M78 6.5h3M79.5 5v3M79 140.5h3M80.5 139v3M79 89.5h3M80.5 88v3M80 54.5h3M81.5 53v3M81 146.5h3M82.5 145v3M83 86.5h3M84.5 85v3M88 158.5h3M89.5 157v3M88 205.5h3M89.5 204v3M89 80.5h3M90.5 79v3M90 193.5h3M91.5 192v3M91 72.5h3M92.5 71v3M92 251.5h3M93.5 250v3M93 71.5h3M94.5 70v3M93 200.5h3M94.5 199v3M94 147.5h3M95.5 146v3M95 219.5h3M96.5 218v3M95 55.5h3M96.5 54v3M96 191.5h3M97.5 190v3M97 115.5h3M98.5 114v3M98 232.5h3M99.5 231v3M98 52.5h3M99.5 51v3M99 160.5h3M100.5 159v3M100 60.5h3M101.5 59v3M101 120.5h3M102.5 119v3M102 13.5h3M103.5 12v3M103 33.5h3M104.5 32v3M105 31.5h3M106.5 30v3M108 12.5h3M109.5 11v3M109 29.5h3M110.5 28v3M112 12.5h3M113.5 11v3M155 68.5h3M156.5 67v3M157 163.5h3M158.5 162v3M158 37.5h3M159.5 36v3M159 239.5h3M160.5 238v3M160 189.5h3M161.5 188v3M161 208.5h3M162.5 207v3M163 200.5h3M164.5 199v3M164 255.5h3M165.5 254v3M165 206.5h3M166.5 205v3M165 253.5h3M166.5 252v3M166 261.5h3M167.5 260v3M167 240.5h3M168.5 239v3M167 212.5h3M168.5 211v3M168 228.5h3M169.5 227v3M168 258.5h3M169.5 257v3M169 280.5h3M170.5 279v3M169 278.5h3M170.5 277v3M170 249.5h3M171.5 248v3M170 221.5h3M171.5 220v3M171 207.5h3M172.5 206v3M171 220.5h3M172.5 219v3M171 237.5h3M172.5 236v3M172 262.5h3M173.5 261v3M173 259.5h3M174.5 258v3M173 255.5h3M174.5 254v3M174 235.5h3M175.5 234v3M174 224.5h3M175.5 223v3M175 231.5h3M176.5 230v3M175 253.5h3M176.5 252v3M176 266.5h3M177.5 265v3M176 268.5h3M177.5 267v3M177 240.5h3M178.5 239v3M178 225.5h3M179.5 224v3M178 250.5h3M179.5 249v3M179 279.5h3M180.5 278v3M179 266.5h3M180.5 265v3M180 227.5h3M181.5 226v3M181 251.5h3M182.5 250v3M181 271.5h3M182.5 270v3M181 267.5h3M182.5 266v3M182 243.5h3M183.5 242v3M183 239.5h3M184.5 238v3M183 277.5h3M184.5 276v3M184 286.5h3M185.5 285v3M184 263.5h3M185.5 262v3M185 242.5h3M186.5 241v3M185 250.5h3M186.5 249v3M186 279.5h3M187.5 278v3M186 266.5h3M187.5 265v3M187 241.5h3M188.5 240v3M187 233.5h3M188.5 232v3M188 252.5h3M189.5 251v3M188 275.5h3M189.5 274v3M189 280.5h3M190.5 279v3M189 262.5h3M190.5 261v3M190 242.5h3M191.5 241v3M190 239.5h3M191.5 238v3M191 248.5h3M192.5 247v3M191 270.5h3M192.5 269v3M192 286.5h3M193.5 285v3M192 288.5h3M193.5 287v3M193 261.5h3M194.5 260v3M193 237.5h3M194.5 236v3M194 236.5h3M195.5 235v3M194 263.5h3M195.5 262v3M195 296.5h3M196.5 295v3M196 285.5h3M197.5 284v3M196 262.5h3M197.5 261v3M197 249.5h3M198.5 248v3M197 261.5h3M198.5 260v3M198 278.5h3M199.5 277v3M199 274.5h3M200.5 273v3M199 253.5h3M200.5 252v3M200 252.5h3M201.5 251v3M200 260.5h3M201.5 259v3M201 285.5h3M202.5 284v3M201 280.5h3M202.5 279v3M202 264.5h3M203.5 263v3M202 253.5h3M203.5 252v3M203 258.5h3M204.5 257v3M204 271.5h3M205.5 270v3M205 273.5h3M206.5 272v3M205 271.5h3M206.5 270v3M206 259.5h3M207.5 258v3M206 246.5h3M207.5 245v3M207 260.5h3M208.5 259v3M208 281.5h3M209.5 280v3M208 290.5h3M209.5 289v3M209 288.5h3M210.5 287v3M209 275.5h3M210.5 274v3M210 243.5h3M211.5 242v3M210 238.5h3M211.5 237v3M211 287.5h3M212.5 286v3M211 304.5h3M212.5 303v3M212 265.5h3M213.5 264v3M212 240.5h3M213.5 239v3M213 253.5h3M214.5 252v3M213 281.5h3M214.5 280v3M214 289.5h3M215.5 288v3M214 259.5h3M215.5 258v3M215 245.5h3M216.5 244v3M215 275.5h3M216.5 274v3M216 285.5h3M217.5 284v3M217 259.5h3M218.5 258v3M217 245.5h3M218.5 244v3M218 272.5h3M219.5 271v3M219 279.5h3M220.5 278v3M219 269.5h3M220.5 268v3M220 255.5h3M221.5 254v3M220 265.5h3M221.5 264v3M221 285.5h3M222.5 284v3M222 292.5h3M223.5 291v3M222 259.5h3M223.5 258v3M223 242.5h3M224.5 241v3M223 256.5h3M224.5 255v3M224 286.5h3M225.5 285v3M224 300.5h3M225.5 299v3M225 285.5h3M226.5 284v3M225 247.5h3M226.5 246v3M226 275.5h3M227.5 274v3M227 285.5h3M228.5 284v3M227 271.5h3M228.5 270v3M228 255.5h3M229.5 254v3M228 256.5h3M229.5 255v3M229 275.5h3M230.5 274v3M229 277.5h3M230.5 276v3M230 269.5h3M231.5 268v3M230 263.5h3M231.5 262v3M231 261.5h3M232.5 260v3M232 267.5h3M233.5 266v3M232 274.5h3M233.5 273v3M233 282.5h3M234.5 281v3M233 276.5h3M234.5 275v3M234 268.5h3M235.5 267v3M234 256.5h3M235.5 255v3M235 257.5h3M236.5 256v3M235 262.5h3M236.5 261v3M236 278.5h3M237.5 277v3M236 281.5h3M237.5 280v3M237 273.5h3M238.5 272v3M237 268.5h3M238.5 267v3M238 260.5h3M239.5 259v3M238 267.5h3M239.5 266v3M239 284.5h3M240.5 283v3M239 281.5h3M240.5 280v3M240 265.5h3M241.5 264v3M241 249.5h3M242.5 248v3M241 269.5h3M242.5 268v3M242 286.5h3M243.5 285v3M242 279.5h3M243.5 278v3M243 261.5h3M244.5 260v3M243 260.5h3M244.5 259v3M244 280.5h3M245.5 279v3M245 276.5h3M246.5 275v3M245 266.5h3M246.5 265v3M246 268.5h3M247.5 267v3M246 296.5h3M247.5 295v3M247 278.5h3M248.5 277v3M247 257.5h3M248.5 256v3M248 274.5h3M249.5 273v3M249 289.5h3M250.5 288v3M249 273.5h3M250.5 272v3M250 257.5h3M251.5 256v3M250 247.5h3M251.5 246v3M251 261.5h3M252.5 260v3M251 290.5h3M252.5 289v3M252 299.5h3M253.5 298v3M252 296.5h3M253.5 295v3M253 268.5h3M254.5 267v3M254 252.5h3M255.5 251v3M254 282.5h3M255.5 281v3M255 287.5h3M256.5 286v3M255 278.5h3M256.5 277v3M256 265.5h3M257.5 264v3M256 265.5h3M257.5 264v3M256 277.5h3M257.5 276v3M257 297.5h3M258.5 296v3M258 271.5h3M259.5 270v3M258 254.5h3M259.5 253v3M259 259.5h3M260.5 258v3M259 281.5h3M260.5 280v3M260 300.5h3M261.5 299v3M260 294.5h3M261.5 293v3M261 266.5h3M262.5 265v3M261 263.5h3M262.5 262v3M262 288.5h3M263.5 287v3M262 278.5h3M263.5 277v3M263 268.5h3M264.5 267v3M264 260.5h3M265.5 259v3M264 274.5h3M265.5 273v3M265 277.5h3M266.5 276v3M265 282.5h3M266.5 281v3M266 282.5h3M267.5 281v3M266 270.5h3M267.5 269v3M267 260.5h3M268.5 259v3M267 266.5h3M268.5 265v3M268 279.5h3M269.5 278v3M268 290.5h3M269.5 289v3M269 284.5h3M270.5 283v3M269 269.5h3M270.5 268v3M270 268.5h3M271.5 267v3M270 268.5h3M271.5 267v3M271 275.5h3M272.5 274v3M272 298.5h3M273.5 297v3M272 303.5h3M273.5 302v3M273 279.5h3M274.5 278v3M274 268.5h3M275.5 267v3M274 270.5h3M275.5 269v3M274 270.5h3M275.5 269v3M275 276.5h3M276.5 275v3M275 292.5h3M276.5 291v3M276 294.5h3M277.5 293v3M277 283.5h3M278.5 282v3M277 263.5h3M278.5 262v3M278 269.5h3M279.5 268v3M278 290.5h3M279.5 289v3M279 292.5h3M280.5 291v3M280 270.5h3M281.5 269v3M280 268.5h3M281.5 267v3M281 280.5h3M282.5 279v3M281 284.5h3M282.5 283v3M282 276.5h3M283.5 275v3M282 257.5h3M283.5 256v3M283 264.5h3M284.5 263v3M283 280.5h3M284.5 279v3M284 280.5h3M285.5 279v3M284 280.5h3M285.5 279v3M285 271.5h3M286.5 270v3M285 274.5h3M286.5 273v3M286 292.5h3M287.5 291v3M287 281.5h3M288.5 280v3M287 265.5h3M288.5 264v3M288 271.5h3M289.5 270v3M288 286.5h3M289.5 285v3M289 285.5h3M290.5 284v3M290 274.5h3M291.5 273v3M290 261.5h3M291.5 260v3M291 289.5h3M292.5 288v3M291 285.5h3M292.5 284v3M292 275.5h3M293.5 274v3M293 269.5h3M294.5 268v3M293 281.5h3M294.5 280v3M294 286.5h3M295.5 285v3M294 285.5h3M295.5 284v3M295 266.5h3M296.5 265v3M295 275.5h3M296.5 274v3M296 304.5h3M297.5 303v3M296 293.5h3M297.5 292v3M297 272.5h3M298.5 271v3M297 266.5h3M298.5 265v3M298 284.5h3M299.5 283v3M298 300.5h3M299.5 299v3M299 272.5h3M300.5 271v3M300 264.5h3M301.5 263v3M300 264.5h3M301.5 263v3M301 274.5h3M302.5 273v3M301 286.5h3M302.5 285v3M302 296.5h3M303.5 295v3M302 290.5h3M303.5 289v3M303 281.5h3M304.5 280v3M303 267.5h3M304.5 266v3M304 273.5h3M305.5 272v3M305 288.5h3M306.5 287v3M305 293.5h3M306.5 292v3M306 276.5h3M307.5 275v3M306 264.5h3M307.5 263v3M307 276.5h3M308.5 275v3M308 302.5h3M309.5 301v3M308 270.5h3M309.5 269v3M309 261.5h3M310.5 260v3M309 275.5h3M310.5 274v3M310 283.5h3M311.5 282v3M310 286.5h3M311.5 285v3M311 277.5h3M312.5 276v3M311 268.5h3M312.5 267v3M312 263.5h3M313.5 262v3M312 273.5h3M313.5 272v3M313 289.5h3M314.5 288v3M314 286.5h3M315.5 285v3M314 272.5h3M315.5 271v3M315 260.5h3M316.5 259v3M315 282.5h3M316.5 281v3M316 295.5h3M317.5 294v3M316 290.5h3M317.5 289v3M317 275.5h3M318.5 274v3M317 271.5h3M318.5 270v3M318 272.5h3M319.5 271v3M318 291.5h3M319.5 290v3M319 303.5h3M320.5 302v3M319 297.5h3M320.5 296v3M320 278.5h3M321.5 277v3M320 263.5h3M321.5 262v3M321 267.5h3M322.5 266v3M321 278.5h3M322.5 277v3M322 283.5h3M323.5 282v3M322 281.5h3M323.5 280v3M323 269.5h3M324.5 268v3M324 265.5h3M325.5 264v3M324 280.5h3M325.5 279v3M325 294.5h3M326.5 293v3M325 300.5h3M326.5 299v3M326 274.5h3M327.5 273v3M326 269.5h3M327.5 268v3M327 271.5h3M328.5 270v3M327 282.5h3M328.5 281v3M328 290.5h3M329.5 289v3M329 281.5h3M330.5 280v3M329 271.5h3M330.5 270v3M330 268.5h3M331.5 267v3M330 275.5h3M331.5 274v3M331 289.5h3M332.5 288v3M331 289.5h3M332.5 288v3M332 272.5h3M333.5 271v3M333 270.5h3M334.5 269v3M333 276.5h3M334.5 275v3M334 294.5h3M335.5 293v3M334 278.5h3M335.5 277v3M335 269.5h3M336.5 268v3M336 280.5h3M337.5 279v3M336 289.5h3M337.5 288v3M337 278.5h3M338.5 277v3M337 266.5h3M338.5 265v3M338 264.5h3M339.5 263v3M338 270.5h3M339.5 269v3M339 285.5h3M340.5 284v3M339 282.5h3M340.5 281v3M340 280.5h3M341.5 279v3M341 265.5h3M342.5 264v3M341 280.5h3M342.5 279v3M342 287.5h3M343.5 286v3M342 272.5h3M343.5 271v3M343 262.5h3M344.5 261v3M344 278.5h3M345.5 277v3M344 283.5h3M345.5 282v3M345 281.5h3M346.5 280v3M345 270.5h3M346.5 269v3M346 267.5h3M347.5 266v3M346 272.5h3M347.5 271v3M347 285.5h3M348.5 284v3M348 288.5h3M349.5 287v3M348 286.5h3M349.5 285v3M348 276.5h3M349.5 275v3M349 274.5h3M350.5 273v3M349 271.5h3M350.5 270v3M350 290.5h3M351.5 289v3M350 293.5h3M351.5 292v3M351 280.5h3M352.5 279v3M352 270.5h3M353.5 269v3M352 273.5h3M353.5 272v3M353 293.5h3M354.5 292v3M354 298.5h3M355.5 297v3M354 271.5h3M355.5 270v3M355 265.5h3M356.5 264v3M355 280.5h3M356.5 279v3M356 292.5h3M357.5 291v3M356 274.5h3M357.5 273v3M357 260.5h3M358.5 259v3M358 289.5h3M359.5 288v3M358 290.5h3M359.5 289v3M359 260.5h3M360.5 259v3M359 257.5h3M360.5 256v3M360 281.5h3M361.5 280v3M360 284.5h3M361.5 283v3M361 280.5h3M362.5 279v3M362 270.5h3M363.5 269v3M362 267.5h3M363.5 266v3M363 279.5h3M364.5 278v3M363 289.5h3M364.5 288v3M364 297.5h3M365.5 296v3M364 287.5h3M365.5 286v3M365 271.5h3M366.5 270v3M365 268.5h3M366.5 267v3M366 278.5h3M367.5 277v3M367 301.5h3M368.5 300v3M367 300.5h3M368.5 299v3M368 276.5h3M369.5 275v3M368 265.5h3M369.5 264v3M369 276.5h3M370.5 275v3M369 283.5h3M370.5 282v3M370 280.5h3M371.5 279v3M371 266.5h3M372.5 265v3M371 271.5h3M372.5 270v3M372 283.5h3M373.5 282v3M372 290.5h3M373.5 289v3M373 280.5h3M374.5 279v3M374 271.5h3M375.5 270v3M374 268.5h3M375.5 267v3M375 278.5h3M376.5 277v3M376 284.5h3M377.5 283v3M376 286.5h3M377.5 285v3M377 282.5h3M378.5 281v3M377 274.5h3M378.5 273v3M378 268.5h3M379.5 267v3M378 274.5h3M379.5 273v3M379 290.5h3M380.5 289v3M379 287.5h3M380.5 286v3M380 278.5h3M381.5 277v3M380 269.5h3M381.5 268v3M381 280.5h3M382.5 279v3M382 295.5h3M383.5 294v3M382 282.5h3M383.5 281v3M383 269.5h3M384.5 268v3M383 270.5h3M384.5 269v3M383 273.5h3M384.5 272v3M384 287.5h3M385.5 286v3M385 292.5h3M386.5 291v3M385 276.5h3M386.5 275v3M386 263.5h3M387.5 262v3M386 269.5h3M387.5 268v3M387 283.5h3M388.5 282v3M388 299.5h3M389.5 298v3M388 289.5h3M389.5 288v3M389 276.5h3M390.5 275v3M389 269.5h3M390.5 268v3M390 271.5h3M391.5 270v3M390 278.5h3M391.5 277v3M391 292.5h3M392.5 291v3M392 295.5h3M393.5 294v3M392 276.5h3M393.5 275v3M393 265.5h3M394.5 264v3M393 272.5h3M394.5 271v3M394 282.5h3M395.5 281v3M394 284.5h3M395.5 283v3M395 274.5h3M396.5 273v3M395 265.5h3M396.5 264v3M396 274.5h3M397.5 273v3M396 283.5h3M397.5 282v3M397 295.5h3M398.5 294v3M397 290.5h3M398.5 289v3" stroke="#ffd700" fill="none" shape-rendering="crispEdges"/>
<polyline points="72.5,-1.5 72.5,103.5 73.5,-34.5 74.5,-60.5 75.5,8.5 76.5,113.5 77.5,36.5 78.5,9.5 79.5,6.5 80.5,140.5 80.5,89.5 81.5,54.5 82.5,146.5 83.5,-30.5 84.5,-60.5 84.5,86.5 86.5,-60.5 86.5,-30.5 88.5,-40.5 89.5,158.5 89.5,205.5 90.5,80.5 91.5,193.5 92.5,72.5 93.5,251.5 94.5,71.5 94.5,200.5 95.5,147.5 96.5,219.5 96.5,55.5 97.5,191.5 98.5,115.5 99.5,232.5 99.5,52.5 100.5,160.5 101.5,60.5 102.5,120.5 103.5,13.5 104.5,33.5 105.5,-23.5 106.5,31.5 107.5,-38.5 109.5,-25.5 109.5,12.5 110.5,29.5 111.5,-25.5 113.5,12.5 114.5,-102.5 115.5,-49.5 117.5,-150.5 118.5,-26.5 119.5,-130.5 120.5,-44.5 121.5,-148.5 123.5,-76.5 124.5,-110.5 125.5,-33.5 125.5,-92.5 126.5,-76.5 127.5,-137.5 128.5,-146.5 129.5,-54.5 130.5,-112.5 131.5,-54.5 132.5,-134.5 133.5,-80.5 134.5,-86.5 135.5,-54.5 136.5,-127.5 137.5,-23.5 138.5,-125.5 139.5,-113.5 140.5,-74.5 140.5,-99.5 141.5,-51.5 143.5,-33.5 144.5,-35.5 145.5,-130.5 145.5,-32.5 146.5,-130.5 148.5,-60.5 149.5,-26.5 150.5,-126.5 152.5,-81.5 153.5,-96.5 154.5,-64.5 155.5,-101.5 156.5,68.5 157.5,-60.5 158.5,163.5 159.5,37.5 160.5,239.5 161.5,189.5 162.5,208.5 164.5,200.5 165.5,255.5 166.5,206.5 166.5,253.5 167.5,261.5 168.5,240.5 168.5,212.5 169.5,228.5 169.5,258.5 170.5,280.5 170.5,278.5 171.5,249.5 171.5,221.5 172.5,207.5 172.5,220.5 172.5,237.5 173.5,262.5 174.5,259.5 174.5,255.5 175.5,235.5 175.5,224.5 176.5,231.5 176.5,253.5 177.5,266.5 177.5,268.5 178.5,240.5 179.5,225.5 179.5,250.5 180.5,279.5 180.5,266.5 181.5,227.5 182.5,251.5 182.5,271.5 182.5,267.5 183.5,243.5 184.5,239.5 184.5,277.5 185.5,286.5 185.5,263.5 186.5,242.5 186.5,250.5 187.5,279.5 187.5,266.5 188.5,241.5 188.5,233.5 189.5,252.5 189.5,275.5 190.5,280.5 190.5,262.5 191.5,242.5 191.5,239.5 192.5,248.5 192.5,270.5 193.5,286.5 193.5,288.5 194.5,261.5 194.5,237.5 195.5,236.5 195.5,263.5 196.5,296.5 197.5,285.5 197.5,262.5 198.5,249.5 198.5,261.5 199.5,278.5 200.5,274.5 200.5,253.5 201.5,252.5 201.5,260.5 202.5,285.5 202.5,280.5 203.5,264.5 203.5,253.5 204.5,258.5 205.5,271.5 206.5,273.5 206.5,271.5 207.5,259.5 207.5,246.5 208.5,260.5 209.5,281.5 209.5,290.5 210.5,288.5 210.5,275.5 211.5,243.5 211.5,238.5 212.5,287.5 212.5,304.5 213.5,265.5 213.5,240.5 214.5,253.5 214.5,281.5 215.5,289.5 215.5,259.5 216.5,245.5 216.5,275.5 217.5,285.5 218.5,259.5 218.5,245.5 219.5,272.5 220.5,279.5 220.5,269.5 221.5,255.5 221.5,265.5 222.5,285.5 223.5,292.5 223.5,259.5 224.5,242.5 224.5,256.5 225.5,286.5 225.5,300.5 226.5,285.5 226.5,247.5 227.5,275.5 228.5,285.5 228.5,271.5 229.5,255.5 229.5,256.5 230.5,275.5 230.5,277.5 231.5,269.5 231.5,263.5 232.5,261.5 233.5,267.5 233.5,274.5 234.5,282.5 234.5,276.5 235.5,268.5 235.5,256.5 236.5,257.5 236.5,262.5 237.5,278.5 237.5,281.5 238.5,273.5 238.5,268.5 239.5,260.5 239.5,267.5 240.5,284.5 240.5,281.5 241.5,265.5 242.5,249.5 242.5,269.5 243.5,286.5 243.5,279.5 244.5,261.5 244.5,260.5 245.5,280.5 246.5,276.5 246.5,266.5 247.5,268.5 247.5,296.5 248.5,278.5 248.5,257.5 249.5,274.5 250.5,289.5 250.5,273.5 251.5,257.5 251.5,247.5 252.5,261.5 252.5,290.5 253.5,299.5 253.5,296.5 254.5,268.5 255.5,252.5 255.5,282.5 256.5,287.5 256.5,278.5 257.5,265.5 257.5,265.5 257.5,277.5 258.5,297.5 259.5,271.5 259.5,254.5 260.5,259.5 260.5,281.5 261.5,300.5 261.5,294.5 262.5,266.5 262.5,263.5 263.5,288.5 263.5,278.5 264.5,268.5 265.5,260.5 265.5,274.5 266.5,277.5 266.5,282.5 267.5,282.5 267.5,270.5 268.5,260.5 268.5,266.5 269.5,279.5 269.5,290.5 270.5,284.5 270.5,269.5 271.5,268.5 271.5,268.5 272.5,275.5 273.5,298.5 273.5,303.5 274.5,279.5 275.5,268.5 275.5,270.5 275.5,270.5 276.5,276.5 276.5,292.5 277.5,294.5 278.5,283.5 278.5,263.5 279.5,269.5 279.5,290.5 280.5,292.5 281.5,270.5 281.5,268.5 282.5,280.5 282.5,284.5 283.5,276.5 283.5,257.5 284.5,264.5 284.5,280.5 285.5,280.5 285.5,280.5 286.5,271.5 286.5,274.5 287.5,292.5 288.5,281.5 288.5,265.5 289.5,271.5 289.5,286.5 290.5,285.5 291.5,274.5 291.5,261.5 292.5,289.5 292.5,285.5 293.5,275.5 294.5,269.5 294.5,281.5 295.5,286.5 295.5,285.5 296.5,266.5 296.5,275.5 297.5,304.5 297.5,293.5 298.5,272.5 298.5,266.5 299.5,284.5 299.5,300.5 300.5,272.5 301.5,264.5 301.5,264.5 302.5,274.5 302.5,286.5 303.5,296.5 303.5,290.5 304.5,281.5 304.5,267.5 305.5,273.5 306.5,288.5 306.5,293.5 307.5,276.5 307.5,264.5 308.5,276.5 309.5,302.5 309.5,270.5 310.5,261.5 310.5,275.5 311.5,283.5 311.5,286.5 312.5,277.5 312.5,268.5 313.5,263.5 313.5,273.5 314.5,289.5 315.5,286.5 315.5,272.5 316.5,260.5 316.5,282.5 317.5,295.5 317.5,290.5 318.5,275.5 318.5,271.5 319.5,272.5 319.5,291.5 320.5,303.5 320.5,297.5 321.5,278.5 321.5,263.5 322.5,267.5 322.5,278.5 323.5,283.5 323.5,281.5 324.5,269.5 325.5,265.5 325.5,280.5 326.5,294.5 326.5,300.5 327.5,274.5 327.5,269.5 328.5,271.5 328.5,282.5 329.5,290.5 330.5,281.5 330.5,271.5 331.5,268.5 331.5,275.5 332.5,289.5 332.5,289.5 333.5,272.5 334.5,270.5 334.5,276.5 335.5,294.5 335.5,278.5 336.5,269.5 337.5,280.5 337.5,289.5 338.5,278.5 338.5,266.5 339.5,264.5 339.5,270.5 340.5,285.5 340.5,282.5 341.5,280.5 342.5,265.5 342.5,280.5 343.5,287.5 343.5,272.5 344.5,262.5 345.5,278.5 345.5,283.5 346.5,281.5 346.5,270.5 347.5,267.5 347.5,272.5 348.5,285.5 349.5,288.5 349.5,286.5 349.5,276.5 350.5,274.5 350.5,271.5 351.5,290.5 351.5,293.5 352.5,280.5 353.5,270.5 353.5,273.5 354.5,293.5 355.5,298.5 355.5,271.5 356.5,265.5 356.5,280.5 357.5,292.5 357.5,274.5 358.5,260.5 359.5,289.5 359.5,290.5 360.5,260.5 360.5,257.5 361.5,281.5 361.5,284.5 362.5,280.5 363.5,270.5 363.5,267.5 364.5,279.5 364.5,289.5 365.5,297.5 365.5,287.5 366.5,271.5 366.5,268.5 367.5,278.5 368.5,301.5 368.5,300.5 369.5,276.5 369.5,265.5 370.5,276.5 370.5,283.5 371.5,280.5 372.5,266.5 372.5,271.5 373.5,283.5 373.5,290.5 374.5,280.5 375.5,271.5 375.5,268.5 376.5,278.5 377.5,284.5 377.5,286.5 378.5,282.5 378.5,274.5 379.5,268.5 379.5,274.5 380.5,290.5 380.5,287.5 381.5,278.5 381.5,269.5 382.5,280.5 383.5,295.5 383.5,282.5 384.5,269.5 384.5,270.5 384.5,273.5 385.5,287.5 386.5,292.5 386.5,276.5 387.5,263.5 387.5,269.5 388.5,283.5 389.5,299.5 389.5,289.5 390.5,276.5 390.5,269.5 391.5,271.5 391.5,278.5 392.5,292.5 393.5,295.5 393.5,276.5 394.5,265.5 394.5,272.5 395.5,282.5 395.5,284.5 396.5,274.5 396.5,265.5 397.5,274.5 397.5,283.5 398.5,295.5 398.5,290.5" fill="none" stroke="#ffa500" stroke-width="1" shape-rendering="crispEdges"/></svg></body></html>
